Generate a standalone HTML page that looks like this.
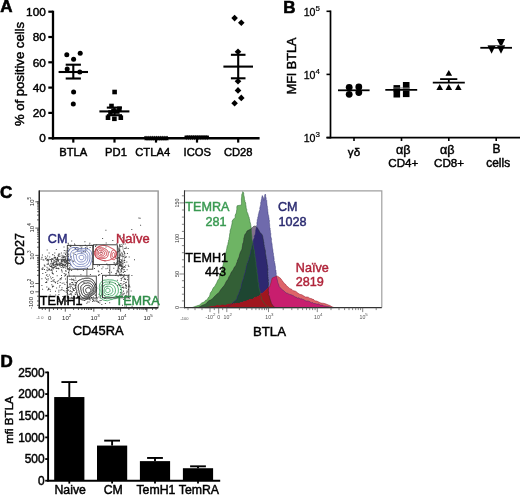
<!DOCTYPE html>
<html><head><meta charset="utf-8"><style>
html,body{margin:0;padding:0;background:#fff;}
svg{display:block;will-change:transform;}
text{font-family:"Liberation Sans",sans-serif;}
</style></head><body>
<svg width="520" height="495" viewBox="0 0 520 495">
<rect width="520" height="495" fill="#fff"/>
<text x="0.2" y="12.4" font-size="17" text-anchor="start" fill="#000" font-weight="bold" stroke="#000" stroke-width="0.6" >A</text>
<line x1="53" y1="10.7" x2="53" y2="139.4" stroke="#000" stroke-width="2.3" />
<line x1="51.9" y1="138.2" x2="259.6" y2="138.2" stroke="#000" stroke-width="2.5" />
<line x1="48.3" y1="138.2" x2="53" y2="138.2" stroke="#000" stroke-width="2.2" />
<text x="45.8" y="142.4" font-size="11.8" text-anchor="end" fill="#000" stroke="#000" stroke-width="0.45" >0</text>
<line x1="48.3" y1="112.9" x2="53" y2="112.9" stroke="#000" stroke-width="2.2" />
<text x="45.8" y="117.1" font-size="11.8" text-anchor="end" fill="#000" stroke="#000" stroke-width="0.45" >20</text>
<line x1="48.3" y1="87.6" x2="53" y2="87.6" stroke="#000" stroke-width="2.2" />
<text x="45.8" y="91.8" font-size="11.8" text-anchor="end" fill="#000" stroke="#000" stroke-width="0.45" >40</text>
<line x1="48.3" y1="62.3" x2="53" y2="62.3" stroke="#000" stroke-width="2.2" />
<text x="45.8" y="66.5" font-size="11.8" text-anchor="end" fill="#000" stroke="#000" stroke-width="0.45" >60</text>
<line x1="48.3" y1="37" x2="53" y2="37" stroke="#000" stroke-width="2.2" />
<text x="45.8" y="41.2" font-size="11.8" text-anchor="end" fill="#000" stroke="#000" stroke-width="0.45" >80</text>
<line x1="48.3" y1="11.7" x2="53" y2="11.7" stroke="#000" stroke-width="2.2" />
<text x="45.8" y="15.9" font-size="11.8" text-anchor="end" fill="#000" stroke="#000" stroke-width="0.45" >100</text>
<line x1="73.3" y1="138.2" x2="73.3" y2="142.6" stroke="#000" stroke-width="2.2" />
<text x="73.3" y="156" font-size="11.2" text-anchor="middle" fill="#000" stroke="#000" stroke-width="0.45" >BTLA</text>
<line x1="114.5" y1="138.2" x2="114.5" y2="142.6" stroke="#000" stroke-width="2.2" />
<text x="116" y="156" font-size="11.2" text-anchor="middle" fill="#000" stroke="#000" stroke-width="0.45" >PD1</text>
<line x1="156" y1="138.2" x2="156" y2="142.6" stroke="#000" stroke-width="2.2" />
<text x="152.7" y="156" font-size="11.2" text-anchor="middle" fill="#000" stroke="#000" stroke-width="0.45" >CTLA4</text>
<line x1="197" y1="138.2" x2="197" y2="142.6" stroke="#000" stroke-width="2.2" />
<text x="197.3" y="156" font-size="11.2" text-anchor="middle" fill="#000" stroke="#000" stroke-width="0.45" >ICOS</text>
<line x1="238.2" y1="138.2" x2="238.2" y2="142.6" stroke="#000" stroke-width="2.2" />
<text x="238.2" y="156" font-size="11.2" text-anchor="middle" fill="#000" stroke="#000" stroke-width="0.45" >CD28</text>
<text transform="translate(24.2,74) rotate(-90)" x="0" y="0" font-size="13.1" stroke="#000" stroke-width="0.45" text-anchor="middle">% of positive cells</text>
<circle cx="66.8" cy="54.8" r="2.5"/>
<circle cx="80.2" cy="53.3" r="2.5"/>
<circle cx="73.6" cy="59.2" r="2.5"/>
<circle cx="67.2" cy="68.9" r="2.5"/>
<circle cx="79.8" cy="72" r="2.5"/>
<circle cx="73.6" cy="92" r="2.5"/>
<circle cx="73.3" cy="104" r="2.5"/>
<line x1="58.6" y1="72" x2="88" y2="72" stroke="#000" stroke-width="2.1" />
<line x1="65.7" y1="64.7" x2="80.9" y2="64.7" stroke="#000" stroke-width="2.1" />
<line x1="65.7" y1="78.5" x2="80.9" y2="78.5" stroke="#000" stroke-width="2.1" />
<line x1="73.3" y1="64.7" x2="73.3" y2="78.5" stroke="#000" stroke-width="2.1" />
<rect x="112.3" y="89.7" width="4.6" height="4.6"/>
<rect x="109.2" y="103.7" width="4.6" height="4.6"/>
<rect x="117.1" y="106.5" width="4.6" height="4.6"/>
<rect x="105.7" y="115.4" width="4.6" height="4.6"/>
<rect x="112.1" y="116.5" width="4.6" height="4.6"/>
<rect x="118.5" y="115.4" width="4.6" height="4.6"/>
<rect x="111.2" y="108.7" width="4.6" height="4.6"/>
<rect x="115" y="109.2" width="4.6" height="4.6"/>
<rect x="108.2" y="110.2" width="4.6" height="4.6"/>
<line x1="99.4" y1="111.4" x2="129.4" y2="111.4" stroke="#000" stroke-width="2.1" />
<line x1="106.8" y1="107.6" x2="122" y2="107.6" stroke="#000" stroke-width="2.1" />
<line x1="106.8" y1="115.2" x2="122" y2="115.2" stroke="#000" stroke-width="2.1" />
<line x1="114.4" y1="107.6" x2="114.4" y2="115.2" stroke="#000" stroke-width="2.1" />
<path d="M144.3 140.2L146 135.6L147.7 140.2Z"/>
<path d="M146.4 140.2L148.1 135.6L149.8 140.2Z"/>
<path d="M148.5 140.2L150.2 135.6L151.9 140.2Z"/>
<path d="M150.6 140.2L152.3 135.6L154 140.2Z"/>
<path d="M152.7 140.2L154.4 135.6L156.1 140.2Z"/>
<path d="M154.8 140.2L156.5 135.6L158.2 140.2Z"/>
<path d="M156.9 140.2L158.6 135.6L160.3 140.2Z"/>
<path d="M159 140.2L160.7 135.6L162.4 140.2Z"/>
<path d="M161.1 140.2L162.8 135.6L164.5 140.2Z"/>
<path d="M163.2 140.2L164.9 135.6L166.6 140.2Z"/>
<path d="M165.3 140.2L167 135.6L168.7 140.2Z"/>
<line x1="144" y1="137.6" x2="168" y2="137.6" stroke="#000" stroke-width="2.4" />
<path d="M184.5 135.6L186.2 140.2L187.9 135.6Z"/>
<path d="M186.6 135.6L188.3 140.2L190 135.6Z"/>
<path d="M188.7 135.6L190.4 140.2L192.1 135.6Z"/>
<path d="M190.8 135.6L192.5 140.2L194.2 135.6Z"/>
<path d="M192.9 135.6L194.6 140.2L196.3 135.6Z"/>
<path d="M195 135.6L196.7 140.2L198.4 135.6Z"/>
<path d="M197.1 135.6L198.8 140.2L200.5 135.6Z"/>
<path d="M199.2 135.6L200.9 140.2L202.6 135.6Z"/>
<path d="M201.3 135.6L203 140.2L204.7 135.6Z"/>
<path d="M203.4 135.6L205.1 140.2L206.8 135.6Z"/>
<path d="M205.5 135.6L207.2 140.2L208.9 135.6Z"/>
<line x1="184.5" y1="137.3" x2="209" y2="137.3" stroke="#000" stroke-width="2.4" />
<path d="M234.6 14.8L237.9 18.1L234.6 21.4L231.3 18.1Z"/>
<path d="M241.3 19.4L244.6 22.7L241.3 26L238 22.7Z"/>
<path d="M238 48.5L241.3 51.8L238 55.1L234.7 51.8Z"/>
<path d="M238 77.9L241.3 81.2L238 84.5L234.7 81.2Z"/>
<path d="M238 87.1L241.3 90.4L238 93.7L234.7 90.4Z"/>
<path d="M241.3 94.6L244.6 97.9L241.3 101.2L238 97.9Z"/>
<path d="M234.6 100L237.9 103.3L234.6 106.6L231.3 103.3Z"/>
<line x1="223.4" y1="66.6" x2="253" y2="66.6" stroke="#000" stroke-width="2.1" />
<line x1="230.9" y1="54.8" x2="245.5" y2="54.8" stroke="#000" stroke-width="2.1" />
<line x1="230.9" y1="78.3" x2="245.5" y2="78.3" stroke="#000" stroke-width="2.1" />
<line x1="238.2" y1="54.8" x2="238.2" y2="78.3" stroke="#000" stroke-width="2.1" />
<text x="283.3" y="12.6" font-size="17" text-anchor="start" fill="#000" font-weight="bold" stroke="#000" stroke-width="0.6" >B</text>
<line x1="330.5" y1="10.5" x2="330.5" y2="138.4" stroke="#000" stroke-width="1.7" />
<line x1="326.5" y1="137.6" x2="520" y2="137.6" stroke="#000" stroke-width="1.8" />
<line x1="326.5" y1="11.3" x2="330.5" y2="11.3" stroke="#000" stroke-width="1.6" />
<text x="315.5" y="15.9" font-size="10.6" text-anchor="end" stroke="#000" stroke-width="0.3">10</text>
<text x="315.5" y="10.7" font-size="8" stroke="#000" stroke-width="0.2">5</text>
<line x1="326.5" y1="74.4" x2="330.5" y2="74.4" stroke="#000" stroke-width="1.6" />
<text x="315.5" y="79" font-size="10.6" text-anchor="end" stroke="#000" stroke-width="0.3">10</text>
<text x="315.5" y="73.8" font-size="8" stroke="#000" stroke-width="0.2">4</text>
<line x1="326.5" y1="137.6" x2="330.5" y2="137.6" stroke="#000" stroke-width="1.6" />
<text x="315.5" y="142.2" font-size="10.6" text-anchor="end" stroke="#000" stroke-width="0.3">10</text>
<text x="315.5" y="137" font-size="8" stroke="#000" stroke-width="0.2">3</text>
<line x1="354" y1="137.6" x2="354" y2="141" stroke="#000" stroke-width="1.6" />
<line x1="401.5" y1="137.6" x2="401.5" y2="141" stroke="#000" stroke-width="1.6" />
<line x1="448.8" y1="137.6" x2="448.8" y2="141" stroke="#000" stroke-width="1.6" />
<line x1="496.2" y1="137.6" x2="496.2" y2="141" stroke="#000" stroke-width="1.6" />
<text x="354" y="156.4" font-size="11.6" text-anchor="middle" fill="#000" stroke="#000" stroke-width="0.45" >γδ</text>
<text x="403.2" y="153.6" font-size="12.6" text-anchor="middle" fill="#000" stroke="#000" stroke-width="0.45" >αβ</text>
<text x="403.3" y="167.3" font-size="11.6" text-anchor="middle" fill="#000" stroke="#000" stroke-width="0.45" >CD4+</text>
<text x="447.2" y="153.6" font-size="12.6" text-anchor="middle" fill="#000" stroke="#000" stroke-width="0.45" >αβ</text>
<text x="449" y="167.3" font-size="11.6" text-anchor="middle" fill="#000" stroke="#000" stroke-width="0.45" >CD8+</text>
<text x="496.6" y="152.7" font-size="12.0" text-anchor="middle" fill="#000" stroke="#000" stroke-width="0.45" >B</text>
<text x="498.2" y="167" font-size="11.9" text-anchor="middle" fill="#000" stroke="#000" stroke-width="0.45" >cells</text>
<text transform="translate(296.4,66) rotate(-90)" x="0" y="0" font-size="12.6" stroke="#000" stroke-width="0.45" text-anchor="middle">MFI BTLA</text>
<circle cx="349.2" cy="87.3" r="3.4"/>
<circle cx="349.2" cy="94.3" r="3.4"/>
<circle cx="358.8" cy="86.9" r="3.4"/>
<circle cx="358.8" cy="92.6" r="3.4"/>
<line x1="338" y1="90.3" x2="369.6" y2="90.3" stroke="#000" stroke-width="1.8" />
<rect x="393.5" y="85.1" width="6.6" height="6.6"/>
<rect x="393.5" y="90.9" width="6.6" height="6.6"/>
<rect x="402.9" y="82" width="6.6" height="6.6"/>
<rect x="402.9" y="90.5" width="6.6" height="6.6"/>
<line x1="385.3" y1="89.9" x2="417.2" y2="89.9" stroke="#000" stroke-width="1.8" />
<line x1="393" y1="88" x2="410" y2="88" stroke="#777" stroke-width="1.0" />
<path d="M445.5 75.8L448.8 70L452.1 75.8Z"/>
<path d="M436.4 89.9L439.7 84.1L443 89.9Z"/>
<path d="M445.5 89.9L448.8 84.1L452.1 89.9Z"/>
<path d="M455 89.9L458.3 84.1L461.6 89.9Z"/>
<line x1="440.1" y1="79.1" x2="457.3" y2="79.1" stroke="#000" stroke-width="1.8" />
<line x1="432.8" y1="82.6" x2="464.8" y2="82.6" stroke="#000" stroke-width="1.8" />
<line x1="448.8" y1="79.1" x2="448.8" y2="82.6" stroke="#000" stroke-width="1.8" />
<path d="M496.9 39L501 47.4L505.1 39Z"/>
<path d="M487.5 45.4L491.6 53.8L495.7 45.4Z"/>
<path d="M496.9 45.4L501 53.8L505.1 45.4Z"/>
<line x1="480.3" y1="47.8" x2="512" y2="47.8" stroke="#000" stroke-width="1.8" />
<line x1="488" y1="45.6" x2="505" y2="45.6" stroke="#555" stroke-width="1.0" />
<text x="0.6" y="366.8" font-size="17" text-anchor="start" fill="#000" font-weight="bold" stroke="#000" stroke-width="0.6" >D</text>
<line x1="48.1" y1="371.6" x2="48.1" y2="481.5" stroke="#000" stroke-width="1.9" />
<line x1="47.3" y1="480.7" x2="220.2" y2="480.7" stroke="#000" stroke-width="1.9" />
<line x1="45.2" y1="480.7" x2="48.1" y2="480.7" stroke="#000" stroke-width="1.8" />
<text x="44.6" y="484.9" font-size="11.9" text-anchor="end" fill="#000" stroke="#000" stroke-width="0.45" >0</text>
<line x1="45.2" y1="459.04" x2="48.1" y2="459.04" stroke="#000" stroke-width="1.8" />
<text x="44.6" y="463.24" font-size="11.9" text-anchor="end" fill="#000" stroke="#000" stroke-width="0.45" >500</text>
<line x1="45.2" y1="437.38" x2="48.1" y2="437.38" stroke="#000" stroke-width="1.8" />
<text x="44.6" y="441.58" font-size="11.9" text-anchor="end" fill="#000" stroke="#000" stroke-width="0.45" >1000</text>
<line x1="45.2" y1="415.72" x2="48.1" y2="415.72" stroke="#000" stroke-width="1.8" />
<text x="44.6" y="419.92" font-size="11.9" text-anchor="end" fill="#000" stroke="#000" stroke-width="0.45" >1500</text>
<line x1="45.2" y1="394.06" x2="48.1" y2="394.06" stroke="#000" stroke-width="1.8" />
<text x="44.6" y="398.26" font-size="11.9" text-anchor="end" fill="#000" stroke="#000" stroke-width="0.45" >2000</text>
<line x1="45.2" y1="372.4" x2="48.1" y2="372.4" stroke="#000" stroke-width="1.8" />
<text x="44.6" y="376.6" font-size="11.9" text-anchor="end" fill="#000" stroke="#000" stroke-width="0.45" >2500</text>
<text transform="translate(12.6,420) rotate(-90)" x="0" y="0" font-size="11.6" stroke="#000" stroke-width="0.45" text-anchor="middle">mfi BTLA</text>
<rect x="54.2" y="397.05" width="30.2" height="83.65"/>
<line x1="69.3" y1="397.05" x2="69.3" y2="382.06" stroke="#000" stroke-width="1.9" />
<line x1="61.4" y1="382.06" x2="77.2" y2="382.06" stroke="#000" stroke-width="1.9" />
<line x1="69.3" y1="480.7" x2="69.3" y2="483.6" stroke="#000" stroke-width="1.8" />
<text x="70.2" y="494.2" font-size="12.3" text-anchor="middle" fill="#000" stroke="#000" stroke-width="0.45" >Naive</text>
<rect x="97" y="445.57" width="30.2" height="35.13"/>
<line x1="112.1" y1="445.57" x2="112.1" y2="440.63" stroke="#000" stroke-width="1.9" />
<line x1="104.2" y1="440.63" x2="120" y2="440.63" stroke="#000" stroke-width="1.9" />
<line x1="112.1" y1="480.7" x2="112.1" y2="483.6" stroke="#000" stroke-width="1.8" />
<text x="113.3" y="494.2" font-size="12.3" text-anchor="middle" fill="#000" stroke="#000" stroke-width="0.45" >CM</text>
<rect x="139.9" y="461.12" width="30.2" height="19.58"/>
<line x1="155" y1="461.12" x2="155" y2="457.96" stroke="#000" stroke-width="1.9" />
<line x1="147.1" y1="457.96" x2="162.9" y2="457.96" stroke="#000" stroke-width="1.9" />
<line x1="155" y1="480.7" x2="155" y2="483.6" stroke="#000" stroke-width="1.8" />
<text x="155.9" y="494.2" font-size="12.3" text-anchor="middle" fill="#000" stroke="#000" stroke-width="0.45" >TemH1</text>
<rect x="182.9" y="468.22" width="30.2" height="12.48"/>
<line x1="198" y1="468.22" x2="198" y2="466.32" stroke="#000" stroke-width="1.9" />
<line x1="190.1" y1="466.32" x2="205.9" y2="466.32" stroke="#000" stroke-width="1.9" />
<line x1="198" y1="480.7" x2="198" y2="483.6" stroke="#000" stroke-width="1.8" />
<text x="198.9" y="494.2" font-size="12.3" text-anchor="middle" fill="#000" stroke="#000" stroke-width="0.45" >TemRA</text>
<text x="0" y="198.2" font-size="17" text-anchor="start" fill="#000" font-weight="bold" stroke="#000" stroke-width="0.6" >C</text>
<path d="M39.3 191.0H158.2V307.8" fill="none" stroke="#a0a0a0" stroke-width="1.2"/>
<line x1="39.3" y1="190.4" x2="39.3" y2="308.4" stroke="#222" stroke-width="1.2" />
<line x1="38.7" y1="307.8" x2="158.2" y2="307.8" stroke="#222" stroke-width="1.2" />
<text transform="translate(23.6,249) rotate(-90)" x="0" y="0" font-size="12.6" stroke="#000" stroke-width="0.45" text-anchor="middle">CD27</text>
<text x="98.2" y="334.5" font-size="12.9" text-anchor="middle" fill="#000" stroke="#000" stroke-width="0.45" >CD45RA</text>
<defs>
<clipPath id="cpG"><path d="M192.0 307.6L193.2 307.2L194.4 306.8L195.6 306.3L196.8 305.9L198.0 305.5L199.2 305.3L200.6 304.0L201.8 302.9L203.0 302.5L204.5 301.8L205.5 300.3L207.0 300.0L207.9 298.2L208.2 297.6L209.4 296.6L209.9 294.9L210.3 293.0L211.0 292.1L212.0 290.8L212.7 289.0L213.7 287.3L214.8 286.4L215.5 285.0L216.3 283.6L217.0 282.2L217.5 280.8L218.3 279.5L219.0 278.8L219.3 277.4L219.5 275.5L219.8 274.2L220.5 273.6L221.0 272.0L221.3 271.1L222.0 269.9L222.0 267.4L222.5 267.2L222.9 265.9L223.3 264.0L223.7 262.2L223.8 261.7L224.1 259.5L224.7 259.2L224.7 256.9L225.2 256.0L225.2 254.3L225.5 253.8L226.0 252.3L226.4 250.6L226.6 249.2L226.8 248.4L227.1 246.6L227.3 245.4L227.9 244.9L228.0 243.0L228.5 241.5L228.5 240.2L228.9 239.7L229.1 238.0L229.6 236.1L229.5 234.9L229.7 234.1L230.1 232.4L230.1 230.8L230.7 229.1L231.1 227.9L231.3 226.6L231.6 225.4L231.8 224.6L232.2 222.8L232.1 221.3L233.1 219.4L234.6 218.3L235.2 217.4L235.2 215.1L235.8 214.0L236.3 213.0L236.6 211.1L236.6 210.2L236.9 209.2L236.8 207.1L237.2 205.7L239.0 205.4L241.2 205.2L241.5 203.3L241.4 202.3L241.5 201.0L241.4 200.0L241.4 198.8L241.7 196.9L241.7 196.0L241.9 194.0L242.6 193.1L242.7 191.5L243.7 193.0L243.7 194.4L243.9 196.1L244.1 196.2L244.4 198.1L244.4 199.3L244.8 200.2L245.0 201.8L245.7 202.8L245.7 204.2L246.0 206.2L246.2 207.2L246.0 208.0L246.7 209.2L246.7 211.2L247.4 212.7L247.7 213.2L248.2 215.0L248.5 216.3L249.1 217.3L249.2 218.3L249.7 220.3L249.8 221.3L250.3 223.0L250.7 224.4L250.8 225.4L251.0 226.5L251.3 228.4L251.3 229.1L251.3 230.4L251.4 232.1L251.4 233.1L251.6 234.3L251.7 235.0L251.9 237.3L251.8 238.0L252.0 239.7L252.3 241.1L252.7 242.1L252.9 243.1L253.0 245.0L253.4 245.8L253.4 247.8L253.9 249.4L254.5 250.7L254.5 252.0L254.4 253.0L254.9 254.4L254.8 255.5L255.2 257.7L255.5 258.4L255.6 259.6L255.6 260.7L256.0 262.8L255.9 264.2L256.1 265.0L256.1 266.3L256.4 267.1L256.8 269.2L257.0 270.3L256.7 271.0L256.9 272.4L257.2 273.4L257.4 275.2L257.7 276.0L257.7 278.1L257.6 278.2L258.0 280.0L257.9 281.7L258.4 282.8L258.8 283.5L258.6 284.4L258.7 286.2L259.0 287.9L259.1 288.3L259.6 290.0L259.9 291.4L260.3 292.7L260.8 294.1L260.6 295.2L260.9 296.2L261.4 296.9L261.5 299.0L262.0 300.0L262.9 301.1L264.0 303.0L265.2 304.3L266.0 305.5L267.3 306.2L268.7 306.9L270.0 307.6Z"/></clipPath>
<clipPath id="cpH"><path d="M198.0 307.6L199.2 307.0L200.5 306.3L201.9 305.5L203.0 305.0L204.1 304.7L205.8 303.9L207.0 302.5L208.8 300.8L210.6 300.0L212.5 298.7L214.0 297.0L215.8 295.2L217.6 293.6L218.7 292.9L219.5 291.7L220.5 290.0L221.7 288.5L223.3 286.6L224.4 285.3L225.2 283.7L226.0 282.0L227.0 280.3L227.8 279.9L228.4 278.1L229.0 276.7L230.0 275.2L230.4 274.5L231.2 272.3L232.0 271.5L233.2 269.8L234.0 268.0L234.7 266.7L236.0 265.4L236.2 264.5L236.6 263.3L237.4 261.5L237.5 260.0L238.2 259.3L238.5 258.0L239.0 257.2L239.3 256.1L239.5 254.9L240.1 252.9L240.5 252.0L241.7 249.8L242.1 248.2L242.2 247.2L242.5 246.1L242.7 244.1L243.0 243.0L243.5 242.2L243.7 240.2L243.8 239.9L243.8 238.2L244.3 237.0L244.5 235.7L245.0 234.3L246.2 233.1L247.0 231.0L248.7 230.1L250.0 229.5L251.5 228.5L253.0 226.8L254.4 226.0L256.0 226.3L257.5 228.0L258.2 229.3L259.0 230.5L259.8 232.2L261.1 233.5L262.3 235.0L262.8 236.8L262.8 237.2L263.0 238.3L263.5 240.4L263.4 241.2L263.9 242.1L263.8 244.3L264.3 245.0L264.2 246.6L264.5 247.1L264.8 249.0L265.1 249.8L265.4 250.8L265.4 252.0L265.4 253.5L265.8 255.0L266.0 256.3L266.2 257.4L266.2 258.8L266.7 259.6L266.9 261.4L267.1 262.9L267.1 264.2L267.5 265.0L267.7 266.5L267.5 268.0L267.9 268.5L268.0 269.7L267.6 271.7L268.0 272.2L267.7 273.5L268.0 275.4L267.8 276.6L268.2 277.4L268.0 278.2L268.5 280.2L268.1 281.8L268.5 282.5L268.5 283.8L268.5 285.0L268.2 285.9L268.2 287.0L268.5 288.8L268.3 290.1L268.3 290.9L268.8 292.9L268.3 294.3L268.5 295.0L269.3 295.9L269.7 297.8L270.0 299.0L270.5 300.6L271.0 302.0L271.4 303.5L272.5 304.9L273.0 306.0L275.0 307.6Z"/></clipPath>
<clipPath id="cpC"><path d="M226.0 307.6L227.2 306.9L228.4 306.2L229.6 305.1L230.7 305.0L232.0 304.0L233.1 302.3L234.4 301.3L236.0 300.0L236.7 299.2L237.2 297.7L237.4 296.4L238.0 295.1L238.7 294.3L239.2 292.2L239.7 291.5L240.0 290.0L240.3 289.1L241.0 288.0L241.3 286.5L241.4 285.3L241.6 284.0L242.2 282.3L242.5 280.7L243.0 280.0L243.4 278.9L243.9 277.2L243.9 276.4L244.4 275.2L244.6 273.8L245.1 273.1L245.5 271.5L245.4 270.6L246.1 268.9L246.3 267.2L246.5 265.7L247.0 265.0L247.1 263.6L248.0 262.2L248.1 261.3L248.5 260.6L249.0 259.3L249.0 257.9L249.8 256.4L250.0 255.0L250.6 253.2L250.6 252.1L250.9 250.9L251.0 250.1L251.5 249.3L251.9 247.5L252.1 246.1L252.5 245.0L252.8 243.9L253.2 242.2L253.1 241.0L253.4 239.7L254.1 238.3L254.5 237.4L254.2 236.5L254.8 235.0L255.3 234.2L255.6 231.7L255.6 230.7L255.8 230.0L256.2 228.0L256.7 226.7L256.6 225.6L257.0 224.6L256.8 222.9L257.2 221.6L257.2 219.8L257.7 218.8L257.7 217.5L258.3 216.0L258.3 214.7L258.7 213.5L259.0 212.0L259.3 211.0L259.9 209.8L259.7 208.2L260.2 206.5L260.7 204.7L260.7 204.2L260.7 202.4L261.1 201.5L261.3 200.0L261.7 198.6L261.8 197.3L262.3 195.5L263.3 197.5L263.8 198.6L263.8 200.4L264.4 199.2L264.6 197.0L264.7 194.9L265.4 194.0L265.6 195.1L265.7 196.8L266.2 198.0L266.1 199.4L266.7 200.3L266.8 202.2L266.9 203.5L267.0 204.6L267.1 205.6L267.6 207.4L267.3 207.8L267.8 209.9L267.7 211.1L268.0 212.0L268.0 213.2L268.3 214.9L268.8 215.9L268.7 216.8L269.1 218.5L269.0 219.4L269.5 220.3L269.4 222.0L269.3 222.8L269.7 224.7L269.7 226.1L269.7 227.5L270.2 228.2L270.1 229.3L270.5 231.4L270.3 232.1L270.8 233.5L270.8 235.0L270.7 236.1L271.2 237.8L271.6 239.3L271.4 240.6L271.5 241.8L271.7 242.4L272.2 244.5L272.1 244.9L272.3 246.5L272.4 247.6L272.6 248.8L272.9 249.8L273.0 251.8L273.2 253.1L273.5 253.5L273.4 255.6L273.7 255.8L274.0 257.7L274.2 259.4L274.0 260.4L274.6 261.4L274.4 262.0L275.1 264.1L275.0 265.0L275.3 265.9L275.5 267.4L275.4 269.4L276.0 270.3L276.0 272.0L276.3 273.4L276.2 274.5L276.5 276.5L276.5 277.3L276.9 278.5L277.3 280.0L277.5 281.0L277.9 282.9L278.5 284.1L279.0 285.5L279.2 286.5L280.9 288.3L282.2 289.8L283.7 290.7L285.0 292.0L286.2 293.0L287.3 293.2L289.0 294.2L289.8 294.4L291.2 294.8L292.8 295.5L293.6 295.8L295.0 297.0L296.3 297.0L297.3 298.2L298.7 297.8L300.2 298.9L301.0 298.6L302.3 299.2L303.9 299.7L305.0 300.5L306.1 301.0L307.4 300.9L308.9 301.2L310.0 301.8L311.2 302.8L312.7 302.5L313.7 303.6L315.0 303.5L316.5 303.9L317.3 304.1L319.0 303.9L319.9 305.1L321.3 305.1L322.8 305.1L323.6 305.9L325.0 306.0L326.3 306.3L327.7 306.5L329.0 306.8L330.3 307.1L331.7 307.3L333.0 307.6Z"/></clipPath>
<clipPath id="cpN"><path d="M205.0 307.6L206.4 307.4L207.8 307.2L209.2 306.9L210.6 306.7L212.0 306.5L213.3 306.4L214.5 306.2L215.8 306.1L217.0 305.2L218.5 305.6L219.6 305.9L220.8 305.5L221.9 304.9L223.3 305.0L224.8 305.6L226.4 305.1L227.4 304.5L228.9 304.2L230.0 304.5L231.4 303.6L232.6 304.6L233.4 303.3L234.5 304.0L236.0 303.5L237.3 303.1L238.7 303.5L239.9 303.0L241.3 302.6L242.4 302.4L244.0 301.5L245.0 301.6L246.5 300.9L248.0 300.0L248.9 299.9L250.1 299.2L251.5 299.5L253.0 298.9L254.2 298.1L255.3 297.1L257.0 297.0L258.0 296.5L259.6 295.8L260.8 293.6L262.2 293.4L263.8 292.0L265.4 290.6L267.0 289.0L268.8 287.1L270.0 286.5L270.2 285.5L270.6 283.9L271.2 282.2L271.5 281.0L271.8 279.2L272.3 278.0L273.8 277.3L275.0 277.0L276.0 276.3L277.5 276.2L279.5 277.5L281.0 278.8L281.9 280.5L283.0 281.5L284.2 283.4L285.3 284.0L286.3 285.6L287.5 286.5L289.6 288.4L292.0 289.5L293.1 290.7L294.8 291.0L295.9 291.4L297.5 292.8L298.9 293.8L300.0 294.4L301.7 294.7L303.5 295.8L305.3 296.9L306.9 297.0L308.3 297.2L310.0 298.5L311.0 298.4L312.2 299.1L313.8 299.6L315.1 300.9L316.5 301.0L317.9 301.6L319.0 302.2L321.0 303.1L322.5 303.2L324.1 303.4L326.0 304.0L326.9 304.4L328.5 305.0L329.9 305.5L331.1 306.3L332.6 307.0L334.0 307.6Z"/></clipPath>
</defs>
<path d="M192.0 307.6L193.2 307.2L194.4 306.8L195.6 306.3L196.8 305.9L198.0 305.5L199.2 305.3L200.6 304.0L201.8 302.9L203.0 302.5L204.5 301.8L205.5 300.3L207.0 300.0L207.9 298.2L208.2 297.6L209.4 296.6L209.9 294.9L210.3 293.0L211.0 292.1L212.0 290.8L212.7 289.0L213.7 287.3L214.8 286.4L215.5 285.0L216.3 283.6L217.0 282.2L217.5 280.8L218.3 279.5L219.0 278.8L219.3 277.4L219.5 275.5L219.8 274.2L220.5 273.6L221.0 272.0L221.3 271.1L222.0 269.9L222.0 267.4L222.5 267.2L222.9 265.9L223.3 264.0L223.7 262.2L223.8 261.7L224.1 259.5L224.7 259.2L224.7 256.9L225.2 256.0L225.2 254.3L225.5 253.8L226.0 252.3L226.4 250.6L226.6 249.2L226.8 248.4L227.1 246.6L227.3 245.4L227.9 244.9L228.0 243.0L228.5 241.5L228.5 240.2L228.9 239.7L229.1 238.0L229.6 236.1L229.5 234.9L229.7 234.1L230.1 232.4L230.1 230.8L230.7 229.1L231.1 227.9L231.3 226.6L231.6 225.4L231.8 224.6L232.2 222.8L232.1 221.3L233.1 219.4L234.6 218.3L235.2 217.4L235.2 215.1L235.8 214.0L236.3 213.0L236.6 211.1L236.6 210.2L236.9 209.2L236.8 207.1L237.2 205.7L239.0 205.4L241.2 205.2L241.5 203.3L241.4 202.3L241.5 201.0L241.4 200.0L241.4 198.8L241.7 196.9L241.7 196.0L241.9 194.0L242.6 193.1L242.7 191.5L243.7 193.0L243.7 194.4L243.9 196.1L244.1 196.2L244.4 198.1L244.4 199.3L244.8 200.2L245.0 201.8L245.7 202.8L245.7 204.2L246.0 206.2L246.2 207.2L246.0 208.0L246.7 209.2L246.7 211.2L247.4 212.7L247.7 213.2L248.2 215.0L248.5 216.3L249.1 217.3L249.2 218.3L249.7 220.3L249.8 221.3L250.3 223.0L250.7 224.4L250.8 225.4L251.0 226.5L251.3 228.4L251.3 229.1L251.3 230.4L251.4 232.1L251.4 233.1L251.6 234.3L251.7 235.0L251.9 237.3L251.8 238.0L252.0 239.7L252.3 241.1L252.7 242.1L252.9 243.1L253.0 245.0L253.4 245.8L253.4 247.8L253.9 249.4L254.5 250.7L254.5 252.0L254.4 253.0L254.9 254.4L254.8 255.5L255.2 257.7L255.5 258.4L255.6 259.6L255.6 260.7L256.0 262.8L255.9 264.2L256.1 265.0L256.1 266.3L256.4 267.1L256.8 269.2L257.0 270.3L256.7 271.0L256.9 272.4L257.2 273.4L257.4 275.2L257.7 276.0L257.7 278.1L257.6 278.2L258.0 280.0L257.9 281.7L258.4 282.8L258.8 283.5L258.6 284.4L258.7 286.2L259.0 287.9L259.1 288.3L259.6 290.0L259.9 291.4L260.3 292.7L260.8 294.1L260.6 295.2L260.9 296.2L261.4 296.9L261.5 299.0L262.0 300.0L262.9 301.1L264.0 303.0L265.2 304.3L266.0 305.5L267.3 306.2L268.7 306.9L270.0 307.6Z" fill="#6eb464"/>
<path d="M198.0 307.6L199.2 307.0L200.5 306.3L201.9 305.5L203.0 305.0L204.1 304.7L205.8 303.9L207.0 302.5L208.8 300.8L210.6 300.0L212.5 298.7L214.0 297.0L215.8 295.2L217.6 293.6L218.7 292.9L219.5 291.7L220.5 290.0L221.7 288.5L223.3 286.6L224.4 285.3L225.2 283.7L226.0 282.0L227.0 280.3L227.8 279.9L228.4 278.1L229.0 276.7L230.0 275.2L230.4 274.5L231.2 272.3L232.0 271.5L233.2 269.8L234.0 268.0L234.7 266.7L236.0 265.4L236.2 264.5L236.6 263.3L237.4 261.5L237.5 260.0L238.2 259.3L238.5 258.0L239.0 257.2L239.3 256.1L239.5 254.9L240.1 252.9L240.5 252.0L241.7 249.8L242.1 248.2L242.2 247.2L242.5 246.1L242.7 244.1L243.0 243.0L243.5 242.2L243.7 240.2L243.8 239.9L243.8 238.2L244.3 237.0L244.5 235.7L245.0 234.3L246.2 233.1L247.0 231.0L248.7 230.1L250.0 229.5L251.5 228.5L253.0 226.8L254.4 226.0L256.0 226.3L257.5 228.0L258.2 229.3L259.0 230.5L259.8 232.2L261.1 233.5L262.3 235.0L262.8 236.8L262.8 237.2L263.0 238.3L263.5 240.4L263.4 241.2L263.9 242.1L263.8 244.3L264.3 245.0L264.2 246.6L264.5 247.1L264.8 249.0L265.1 249.8L265.4 250.8L265.4 252.0L265.4 253.5L265.8 255.0L266.0 256.3L266.2 257.4L266.2 258.8L266.7 259.6L266.9 261.4L267.1 262.9L267.1 264.2L267.5 265.0L267.7 266.5L267.5 268.0L267.9 268.5L268.0 269.7L267.6 271.7L268.0 272.2L267.7 273.5L268.0 275.4L267.8 276.6L268.2 277.4L268.0 278.2L268.5 280.2L268.1 281.8L268.5 282.5L268.5 283.8L268.5 285.0L268.2 285.9L268.2 287.0L268.5 288.8L268.3 290.1L268.3 290.9L268.8 292.9L268.3 294.3L268.5 295.0L269.3 295.9L269.7 297.8L270.0 299.0L270.5 300.6L271.0 302.0L271.4 303.5L272.5 304.9L273.0 306.0L275.0 307.6Z" fill="#82738c"/>
<g clip-path="url(#cpG)"><path d="M198.0 307.6L199.2 307.0L200.5 306.3L201.9 305.5L203.0 305.0L204.1 304.7L205.8 303.9L207.0 302.5L208.8 300.8L210.6 300.0L212.5 298.7L214.0 297.0L215.8 295.2L217.6 293.6L218.7 292.9L219.5 291.7L220.5 290.0L221.7 288.5L223.3 286.6L224.4 285.3L225.2 283.7L226.0 282.0L227.0 280.3L227.8 279.9L228.4 278.1L229.0 276.7L230.0 275.2L230.4 274.5L231.2 272.3L232.0 271.5L233.2 269.8L234.0 268.0L234.7 266.7L236.0 265.4L236.2 264.5L236.6 263.3L237.4 261.5L237.5 260.0L238.2 259.3L238.5 258.0L239.0 257.2L239.3 256.1L239.5 254.9L240.1 252.9L240.5 252.0L241.7 249.8L242.1 248.2L242.2 247.2L242.5 246.1L242.7 244.1L243.0 243.0L243.5 242.2L243.7 240.2L243.8 239.9L243.8 238.2L244.3 237.0L244.5 235.7L245.0 234.3L246.2 233.1L247.0 231.0L248.7 230.1L250.0 229.5L251.5 228.5L253.0 226.8L254.4 226.0L256.0 226.3L257.5 228.0L258.2 229.3L259.0 230.5L259.8 232.2L261.1 233.5L262.3 235.0L262.8 236.8L262.8 237.2L263.0 238.3L263.5 240.4L263.4 241.2L263.9 242.1L263.8 244.3L264.3 245.0L264.2 246.6L264.5 247.1L264.8 249.0L265.1 249.8L265.4 250.8L265.4 252.0L265.4 253.5L265.8 255.0L266.0 256.3L266.2 257.4L266.2 258.8L266.7 259.6L266.9 261.4L267.1 262.9L267.1 264.2L267.5 265.0L267.7 266.5L267.5 268.0L267.9 268.5L268.0 269.7L267.6 271.7L268.0 272.2L267.7 273.5L268.0 275.4L267.8 276.6L268.2 277.4L268.0 278.2L268.5 280.2L268.1 281.8L268.5 282.5L268.5 283.8L268.5 285.0L268.2 285.9L268.2 287.0L268.5 288.8L268.3 290.1L268.3 290.9L268.8 292.9L268.3 294.3L268.5 295.0L269.3 295.9L269.7 297.8L270.0 299.0L270.5 300.6L271.0 302.0L271.4 303.5L272.5 304.9L273.0 306.0L275.0 307.6Z" fill="#335f36"/></g>
<path d="M226.0 307.6L227.2 306.9L228.4 306.2L229.6 305.1L230.7 305.0L232.0 304.0L233.1 302.3L234.4 301.3L236.0 300.0L236.7 299.2L237.2 297.7L237.4 296.4L238.0 295.1L238.7 294.3L239.2 292.2L239.7 291.5L240.0 290.0L240.3 289.1L241.0 288.0L241.3 286.5L241.4 285.3L241.6 284.0L242.2 282.3L242.5 280.7L243.0 280.0L243.4 278.9L243.9 277.2L243.9 276.4L244.4 275.2L244.6 273.8L245.1 273.1L245.5 271.5L245.4 270.6L246.1 268.9L246.3 267.2L246.5 265.7L247.0 265.0L247.1 263.6L248.0 262.2L248.1 261.3L248.5 260.6L249.0 259.3L249.0 257.9L249.8 256.4L250.0 255.0L250.6 253.2L250.6 252.1L250.9 250.9L251.0 250.1L251.5 249.3L251.9 247.5L252.1 246.1L252.5 245.0L252.8 243.9L253.2 242.2L253.1 241.0L253.4 239.7L254.1 238.3L254.5 237.4L254.2 236.5L254.8 235.0L255.3 234.2L255.6 231.7L255.6 230.7L255.8 230.0L256.2 228.0L256.7 226.7L256.6 225.6L257.0 224.6L256.8 222.9L257.2 221.6L257.2 219.8L257.7 218.8L257.7 217.5L258.3 216.0L258.3 214.7L258.7 213.5L259.0 212.0L259.3 211.0L259.9 209.8L259.7 208.2L260.2 206.5L260.7 204.7L260.7 204.2L260.7 202.4L261.1 201.5L261.3 200.0L261.7 198.6L261.8 197.3L262.3 195.5L263.3 197.5L263.8 198.6L263.8 200.4L264.4 199.2L264.6 197.0L264.7 194.9L265.4 194.0L265.6 195.1L265.7 196.8L266.2 198.0L266.1 199.4L266.7 200.3L266.8 202.2L266.9 203.5L267.0 204.6L267.1 205.6L267.6 207.4L267.3 207.8L267.8 209.9L267.7 211.1L268.0 212.0L268.0 213.2L268.3 214.9L268.8 215.9L268.7 216.8L269.1 218.5L269.0 219.4L269.5 220.3L269.4 222.0L269.3 222.8L269.7 224.7L269.7 226.1L269.7 227.5L270.2 228.2L270.1 229.3L270.5 231.4L270.3 232.1L270.8 233.5L270.8 235.0L270.7 236.1L271.2 237.8L271.6 239.3L271.4 240.6L271.5 241.8L271.7 242.4L272.2 244.5L272.1 244.9L272.3 246.5L272.4 247.6L272.6 248.8L272.9 249.8L273.0 251.8L273.2 253.1L273.5 253.5L273.4 255.6L273.7 255.8L274.0 257.7L274.2 259.4L274.0 260.4L274.6 261.4L274.4 262.0L275.1 264.1L275.0 265.0L275.3 265.9L275.5 267.4L275.4 269.4L276.0 270.3L276.0 272.0L276.3 273.4L276.2 274.5L276.5 276.5L276.5 277.3L276.9 278.5L277.3 280.0L277.5 281.0L277.9 282.9L278.5 284.1L279.0 285.5L279.2 286.5L280.9 288.3L282.2 289.8L283.7 290.7L285.0 292.0L286.2 293.0L287.3 293.2L289.0 294.2L289.8 294.4L291.2 294.8L292.8 295.5L293.6 295.8L295.0 297.0L296.3 297.0L297.3 298.2L298.7 297.8L300.2 298.9L301.0 298.6L302.3 299.2L303.9 299.7L305.0 300.5L306.1 301.0L307.4 300.9L308.9 301.2L310.0 301.8L311.2 302.8L312.7 302.5L313.7 303.6L315.0 303.5L316.5 303.9L317.3 304.1L319.0 303.9L319.9 305.1L321.3 305.1L322.8 305.1L323.6 305.9L325.0 306.0L326.3 306.3L327.7 306.5L329.0 306.8L330.3 307.1L331.7 307.3L333.0 307.6Z" fill="#6f6aac"/>
<g clip-path="url(#cpH)"><path d="M226.0 307.6L227.2 306.9L228.4 306.2L229.6 305.1L230.7 305.0L232.0 304.0L233.1 302.3L234.4 301.3L236.0 300.0L236.7 299.2L237.2 297.7L237.4 296.4L238.0 295.1L238.7 294.3L239.2 292.2L239.7 291.5L240.0 290.0L240.3 289.1L241.0 288.0L241.3 286.5L241.4 285.3L241.6 284.0L242.2 282.3L242.5 280.7L243.0 280.0L243.4 278.9L243.9 277.2L243.9 276.4L244.4 275.2L244.6 273.8L245.1 273.1L245.5 271.5L245.4 270.6L246.1 268.9L246.3 267.2L246.5 265.7L247.0 265.0L247.1 263.6L248.0 262.2L248.1 261.3L248.5 260.6L249.0 259.3L249.0 257.9L249.8 256.4L250.0 255.0L250.6 253.2L250.6 252.1L250.9 250.9L251.0 250.1L251.5 249.3L251.9 247.5L252.1 246.1L252.5 245.0L252.8 243.9L253.2 242.2L253.1 241.0L253.4 239.7L254.1 238.3L254.5 237.4L254.2 236.5L254.8 235.0L255.3 234.2L255.6 231.7L255.6 230.7L255.8 230.0L256.2 228.0L256.7 226.7L256.6 225.6L257.0 224.6L256.8 222.9L257.2 221.6L257.2 219.8L257.7 218.8L257.7 217.5L258.3 216.0L258.3 214.7L258.7 213.5L259.0 212.0L259.3 211.0L259.9 209.8L259.7 208.2L260.2 206.5L260.7 204.7L260.7 204.2L260.7 202.4L261.1 201.5L261.3 200.0L261.7 198.6L261.8 197.3L262.3 195.5L263.3 197.5L263.8 198.6L263.8 200.4L264.4 199.2L264.6 197.0L264.7 194.9L265.4 194.0L265.6 195.1L265.7 196.8L266.2 198.0L266.1 199.4L266.7 200.3L266.8 202.2L266.9 203.5L267.0 204.6L267.1 205.6L267.6 207.4L267.3 207.8L267.8 209.9L267.7 211.1L268.0 212.0L268.0 213.2L268.3 214.9L268.8 215.9L268.7 216.8L269.1 218.5L269.0 219.4L269.5 220.3L269.4 222.0L269.3 222.8L269.7 224.7L269.7 226.1L269.7 227.5L270.2 228.2L270.1 229.3L270.5 231.4L270.3 232.1L270.8 233.5L270.8 235.0L270.7 236.1L271.2 237.8L271.6 239.3L271.4 240.6L271.5 241.8L271.7 242.4L272.2 244.5L272.1 244.9L272.3 246.5L272.4 247.6L272.6 248.8L272.9 249.8L273.0 251.8L273.2 253.1L273.5 253.5L273.4 255.6L273.7 255.8L274.0 257.7L274.2 259.4L274.0 260.4L274.6 261.4L274.4 262.0L275.1 264.1L275.0 265.0L275.3 265.9L275.5 267.4L275.4 269.4L276.0 270.3L276.0 272.0L276.3 273.4L276.2 274.5L276.5 276.5L276.5 277.3L276.9 278.5L277.3 280.0L277.5 281.0L277.9 282.9L278.5 284.1L279.0 285.5L279.2 286.5L280.9 288.3L282.2 289.8L283.7 290.7L285.0 292.0L286.2 293.0L287.3 293.2L289.0 294.2L289.8 294.4L291.2 294.8L292.8 295.5L293.6 295.8L295.0 297.0L296.3 297.0L297.3 298.2L298.7 297.8L300.2 298.9L301.0 298.6L302.3 299.2L303.9 299.7L305.0 300.5L306.1 301.0L307.4 300.9L308.9 301.2L310.0 301.8L311.2 302.8L312.7 302.5L313.7 303.6L315.0 303.5L316.5 303.9L317.3 304.1L319.0 303.9L319.9 305.1L321.3 305.1L322.8 305.1L323.6 305.9L325.0 306.0L326.3 306.3L327.7 306.5L329.0 306.8L330.3 307.1L331.7 307.3L333.0 307.6Z" fill="#2e2870"/></g>
<g clip-path="url(#cpG)"><g clip-path="url(#cpH)"><path d="M226.0 307.6L227.2 306.9L228.4 306.2L229.6 305.1L230.7 305.0L232.0 304.0L233.1 302.3L234.4 301.3L236.0 300.0L236.7 299.2L237.2 297.7L237.4 296.4L238.0 295.1L238.7 294.3L239.2 292.2L239.7 291.5L240.0 290.0L240.3 289.1L241.0 288.0L241.3 286.5L241.4 285.3L241.6 284.0L242.2 282.3L242.5 280.7L243.0 280.0L243.4 278.9L243.9 277.2L243.9 276.4L244.4 275.2L244.6 273.8L245.1 273.1L245.5 271.5L245.4 270.6L246.1 268.9L246.3 267.2L246.5 265.7L247.0 265.0L247.1 263.6L248.0 262.2L248.1 261.3L248.5 260.6L249.0 259.3L249.0 257.9L249.8 256.4L250.0 255.0L250.6 253.2L250.6 252.1L250.9 250.9L251.0 250.1L251.5 249.3L251.9 247.5L252.1 246.1L252.5 245.0L252.8 243.9L253.2 242.2L253.1 241.0L253.4 239.7L254.1 238.3L254.5 237.4L254.2 236.5L254.8 235.0L255.3 234.2L255.6 231.7L255.6 230.7L255.8 230.0L256.2 228.0L256.7 226.7L256.6 225.6L257.0 224.6L256.8 222.9L257.2 221.6L257.2 219.8L257.7 218.8L257.7 217.5L258.3 216.0L258.3 214.7L258.7 213.5L259.0 212.0L259.3 211.0L259.9 209.8L259.7 208.2L260.2 206.5L260.7 204.7L260.7 204.2L260.7 202.4L261.1 201.5L261.3 200.0L261.7 198.6L261.8 197.3L262.3 195.5L263.3 197.5L263.8 198.6L263.8 200.4L264.4 199.2L264.6 197.0L264.7 194.9L265.4 194.0L265.6 195.1L265.7 196.8L266.2 198.0L266.1 199.4L266.7 200.3L266.8 202.2L266.9 203.5L267.0 204.6L267.1 205.6L267.6 207.4L267.3 207.8L267.8 209.9L267.7 211.1L268.0 212.0L268.0 213.2L268.3 214.9L268.8 215.9L268.7 216.8L269.1 218.5L269.0 219.4L269.5 220.3L269.4 222.0L269.3 222.8L269.7 224.7L269.7 226.1L269.7 227.5L270.2 228.2L270.1 229.3L270.5 231.4L270.3 232.1L270.8 233.5L270.8 235.0L270.7 236.1L271.2 237.8L271.6 239.3L271.4 240.6L271.5 241.8L271.7 242.4L272.2 244.5L272.1 244.9L272.3 246.5L272.4 247.6L272.6 248.8L272.9 249.8L273.0 251.8L273.2 253.1L273.5 253.5L273.4 255.6L273.7 255.8L274.0 257.7L274.2 259.4L274.0 260.4L274.6 261.4L274.4 262.0L275.1 264.1L275.0 265.0L275.3 265.9L275.5 267.4L275.4 269.4L276.0 270.3L276.0 272.0L276.3 273.4L276.2 274.5L276.5 276.5L276.5 277.3L276.9 278.5L277.3 280.0L277.5 281.0L277.9 282.9L278.5 284.1L279.0 285.5L279.2 286.5L280.9 288.3L282.2 289.8L283.7 290.7L285.0 292.0L286.2 293.0L287.3 293.2L289.0 294.2L289.8 294.4L291.2 294.8L292.8 295.5L293.6 295.8L295.0 297.0L296.3 297.0L297.3 298.2L298.7 297.8L300.2 298.9L301.0 298.6L302.3 299.2L303.9 299.7L305.0 300.5L306.1 301.0L307.4 300.9L308.9 301.2L310.0 301.8L311.2 302.8L312.7 302.5L313.7 303.6L315.0 303.5L316.5 303.9L317.3 304.1L319.0 303.9L319.9 305.1L321.3 305.1L322.8 305.1L323.6 305.9L325.0 306.0L326.3 306.3L327.7 306.5L329.0 306.8L330.3 307.1L331.7 307.3L333.0 307.6Z" fill="#1e4632"/></g></g>
<path d="M205.0 307.6L206.4 307.4L207.8 307.2L209.2 306.9L210.6 306.7L212.0 306.5L213.3 306.4L214.5 306.2L215.8 306.1L217.0 305.2L218.5 305.6L219.6 305.9L220.8 305.5L221.9 304.9L223.3 305.0L224.8 305.6L226.4 305.1L227.4 304.5L228.9 304.2L230.0 304.5L231.4 303.6L232.6 304.6L233.4 303.3L234.5 304.0L236.0 303.5L237.3 303.1L238.7 303.5L239.9 303.0L241.3 302.6L242.4 302.4L244.0 301.5L245.0 301.6L246.5 300.9L248.0 300.0L248.9 299.9L250.1 299.2L251.5 299.5L253.0 298.9L254.2 298.1L255.3 297.1L257.0 297.0L258.0 296.5L259.6 295.8L260.8 293.6L262.2 293.4L263.8 292.0L265.4 290.6L267.0 289.0L268.8 287.1L270.0 286.5L270.2 285.5L270.6 283.9L271.2 282.2L271.5 281.0L271.8 279.2L272.3 278.0L273.8 277.3L275.0 277.0L276.0 276.3L277.5 276.2L279.5 277.5L281.0 278.8L281.9 280.5L283.0 281.5L284.2 283.4L285.3 284.0L286.3 285.6L287.5 286.5L289.6 288.4L292.0 289.5L293.1 290.7L294.8 291.0L295.9 291.4L297.5 292.8L298.9 293.8L300.0 294.4L301.7 294.7L303.5 295.8L305.3 296.9L306.9 297.0L308.3 297.2L310.0 298.5L311.0 298.4L312.2 299.1L313.8 299.6L315.1 300.9L316.5 301.0L317.9 301.6L319.0 302.2L321.0 303.1L322.5 303.2L324.1 303.4L326.0 304.0L326.9 304.4L328.5 305.0L329.9 305.5L331.1 306.3L332.6 307.0L334.0 307.6Z" fill="#de6469"/>
<g clip-path="url(#cpC)"><path d="M205.0 307.6L206.4 307.4L207.8 307.2L209.2 306.9L210.6 306.7L212.0 306.5L213.3 306.4L214.5 306.2L215.8 306.1L217.0 305.2L218.5 305.6L219.6 305.9L220.8 305.5L221.9 304.9L223.3 305.0L224.8 305.6L226.4 305.1L227.4 304.5L228.9 304.2L230.0 304.5L231.4 303.6L232.6 304.6L233.4 303.3L234.5 304.0L236.0 303.5L237.3 303.1L238.7 303.5L239.9 303.0L241.3 302.6L242.4 302.4L244.0 301.5L245.0 301.6L246.5 300.9L248.0 300.0L248.9 299.9L250.1 299.2L251.5 299.5L253.0 298.9L254.2 298.1L255.3 297.1L257.0 297.0L258.0 296.5L259.6 295.8L260.8 293.6L262.2 293.4L263.8 292.0L265.4 290.6L267.0 289.0L268.8 287.1L270.0 286.5L270.2 285.5L270.6 283.9L271.2 282.2L271.5 281.0L271.8 279.2L272.3 278.0L273.8 277.3L275.0 277.0L276.0 276.3L277.5 276.2L279.5 277.5L281.0 278.8L281.9 280.5L283.0 281.5L284.2 283.4L285.3 284.0L286.3 285.6L287.5 286.5L289.6 288.4L292.0 289.5L293.1 290.7L294.8 291.0L295.9 291.4L297.5 292.8L298.9 293.8L300.0 294.4L301.7 294.7L303.5 295.8L305.3 296.9L306.9 297.0L308.3 297.2L310.0 298.5L311.0 298.4L312.2 299.1L313.8 299.6L315.1 300.9L316.5 301.0L317.9 301.6L319.0 302.2L321.0 303.1L322.5 303.2L324.1 303.4L326.0 304.0L326.9 304.4L328.5 305.0L329.9 305.5L331.1 306.3L332.6 307.0L334.0 307.6Z" fill="#c81e6e"/></g>
<g clip-path="url(#cpH)"><path d="M205.0 307.6L206.4 307.4L207.8 307.2L209.2 306.9L210.6 306.7L212.0 306.5L213.3 306.4L214.5 306.2L215.8 306.1L217.0 305.2L218.5 305.6L219.6 305.9L220.8 305.5L221.9 304.9L223.3 305.0L224.8 305.6L226.4 305.1L227.4 304.5L228.9 304.2L230.0 304.5L231.4 303.6L232.6 304.6L233.4 303.3L234.5 304.0L236.0 303.5L237.3 303.1L238.7 303.5L239.9 303.0L241.3 302.6L242.4 302.4L244.0 301.5L245.0 301.6L246.5 300.9L248.0 300.0L248.9 299.9L250.1 299.2L251.5 299.5L253.0 298.9L254.2 298.1L255.3 297.1L257.0 297.0L258.0 296.5L259.6 295.8L260.8 293.6L262.2 293.4L263.8 292.0L265.4 290.6L267.0 289.0L268.8 287.1L270.0 286.5L270.2 285.5L270.6 283.9L271.2 282.2L271.5 281.0L271.8 279.2L272.3 278.0L273.8 277.3L275.0 277.0L276.0 276.3L277.5 276.2L279.5 277.5L281.0 278.8L281.9 280.5L283.0 281.5L284.2 283.4L285.3 284.0L286.3 285.6L287.5 286.5L289.6 288.4L292.0 289.5L293.1 290.7L294.8 291.0L295.9 291.4L297.5 292.8L298.9 293.8L300.0 294.4L301.7 294.7L303.5 295.8L305.3 296.9L306.9 297.0L308.3 297.2L310.0 298.5L311.0 298.4L312.2 299.1L313.8 299.6L315.1 300.9L316.5 301.0L317.9 301.6L319.0 302.2L321.0 303.1L322.5 303.2L324.1 303.4L326.0 304.0L326.9 304.4L328.5 305.0L329.9 305.5L331.1 306.3L332.6 307.0L334.0 307.6Z" fill="#a0161e"/></g>
<g clip-path="url(#cpG)"><path d="M205.0 307.6L206.4 307.4L207.8 307.2L209.2 306.9L210.6 306.7L212.0 306.5L213.3 306.4L214.5 306.2L215.8 306.1L217.0 305.2L218.5 305.6L219.6 305.9L220.8 305.5L221.9 304.9L223.3 305.0L224.8 305.6L226.4 305.1L227.4 304.5L228.9 304.2L230.0 304.5L231.4 303.6L232.6 304.6L233.4 303.3L234.5 304.0L236.0 303.5L237.3 303.1L238.7 303.5L239.9 303.0L241.3 302.6L242.4 302.4L244.0 301.5L245.0 301.6L246.5 300.9L248.0 300.0L248.9 299.9L250.1 299.2L251.5 299.5L253.0 298.9L254.2 298.1L255.3 297.1L257.0 297.0L258.0 296.5L259.6 295.8L260.8 293.6L262.2 293.4L263.8 292.0L265.4 290.6L267.0 289.0L268.8 287.1L270.0 286.5L270.2 285.5L270.6 283.9L271.2 282.2L271.5 281.0L271.8 279.2L272.3 278.0L273.8 277.3L275.0 277.0L276.0 276.3L277.5 276.2L279.5 277.5L281.0 278.8L281.9 280.5L283.0 281.5L284.2 283.4L285.3 284.0L286.3 285.6L287.5 286.5L289.6 288.4L292.0 289.5L293.1 290.7L294.8 291.0L295.9 291.4L297.5 292.8L298.9 293.8L300.0 294.4L301.7 294.7L303.5 295.8L305.3 296.9L306.9 297.0L308.3 297.2L310.0 298.5L311.0 298.4L312.2 299.1L313.8 299.6L315.1 300.9L316.5 301.0L317.9 301.6L319.0 302.2L321.0 303.1L322.5 303.2L324.1 303.4L326.0 304.0L326.9 304.4L328.5 305.0L329.9 305.5L331.1 306.3L332.6 307.0L334.0 307.6Z" fill="#a0161e"/></g>
<path d="M192.0 307.6L193.2 307.2L194.4 306.8L195.6 306.3L196.8 305.9L198.0 305.5L199.2 305.3L200.6 304.0L201.8 302.9L203.0 302.5L204.5 301.8L205.5 300.3L207.0 300.0L207.9 298.2L208.2 297.6L209.4 296.6L209.9 294.9L210.3 293.0L211.0 292.1L212.0 290.8L212.7 289.0L213.7 287.3L214.8 286.4L215.5 285.0L216.3 283.6L217.0 282.2L217.5 280.8L218.3 279.5L219.0 278.8L219.3 277.4L219.5 275.5L219.8 274.2L220.5 273.6L221.0 272.0L221.3 271.1L222.0 269.9L222.0 267.4L222.5 267.2L222.9 265.9L223.3 264.0L223.7 262.2L223.8 261.7L224.1 259.5L224.7 259.2L224.7 256.9L225.2 256.0L225.2 254.3L225.5 253.8L226.0 252.3L226.4 250.6L226.6 249.2L226.8 248.4L227.1 246.6L227.3 245.4L227.9 244.9L228.0 243.0L228.5 241.5L228.5 240.2L228.9 239.7L229.1 238.0L229.6 236.1L229.5 234.9L229.7 234.1L230.1 232.4L230.1 230.8L230.7 229.1L231.1 227.9L231.3 226.6L231.6 225.4L231.8 224.6L232.2 222.8L232.1 221.3L233.1 219.4L234.6 218.3L235.2 217.4L235.2 215.1L235.8 214.0L236.3 213.0L236.6 211.1L236.6 210.2L236.9 209.2L236.8 207.1L237.2 205.7L239.0 205.4L241.2 205.2L241.5 203.3L241.4 202.3L241.5 201.0L241.4 200.0L241.4 198.8L241.7 196.9L241.7 196.0L241.9 194.0L242.6 193.1L242.7 191.5L243.7 193.0L243.7 194.4L243.9 196.1L244.1 196.2L244.4 198.1L244.4 199.3L244.8 200.2L245.0 201.8L245.7 202.8L245.7 204.2L246.0 206.2L246.2 207.2L246.0 208.0L246.7 209.2L246.7 211.2L247.4 212.7L247.7 213.2L248.2 215.0L248.5 216.3L249.1 217.3L249.2 218.3L249.7 220.3L249.8 221.3L250.3 223.0L250.7 224.4L250.8 225.4L251.0 226.5L251.3 228.4L251.3 229.1L251.3 230.4L251.4 232.1L251.4 233.1L251.6 234.3L251.7 235.0L251.9 237.3L251.8 238.0L252.0 239.7L252.3 241.1L252.7 242.1L252.9 243.1L253.0 245.0L253.4 245.8L253.4 247.8L253.9 249.4L254.5 250.7L254.5 252.0L254.4 253.0L254.9 254.4L254.8 255.5L255.2 257.7L255.5 258.4L255.6 259.6L255.6 260.7L256.0 262.8L255.9 264.2L256.1 265.0L256.1 266.3L256.4 267.1L256.8 269.2L257.0 270.3L256.7 271.0L256.9 272.4L257.2 273.4L257.4 275.2L257.7 276.0L257.7 278.1L257.6 278.2L258.0 280.0L257.9 281.7L258.4 282.8L258.8 283.5L258.6 284.4L258.7 286.2L259.0 287.9L259.1 288.3L259.6 290.0L259.9 291.4L260.3 292.7L260.8 294.1L260.6 295.2L260.9 296.2L261.4 296.9L261.5 299.0L262.0 300.0L262.9 301.1L264.0 303.0L265.2 304.3L266.0 305.5L267.3 306.2L268.7 306.9L270.0 307.6Z" fill="none" stroke="#2e6e34" stroke-width="0.7" stroke-opacity="0.8"/>
<path d="M198.0 307.6L199.2 307.0L200.5 306.3L201.9 305.5L203.0 305.0L204.1 304.7L205.8 303.9L207.0 302.5L208.8 300.8L210.6 300.0L212.5 298.7L214.0 297.0L215.8 295.2L217.6 293.6L218.7 292.9L219.5 291.7L220.5 290.0L221.7 288.5L223.3 286.6L224.4 285.3L225.2 283.7L226.0 282.0L227.0 280.3L227.8 279.9L228.4 278.1L229.0 276.7L230.0 275.2L230.4 274.5L231.2 272.3L232.0 271.5L233.2 269.8L234.0 268.0L234.7 266.7L236.0 265.4L236.2 264.5L236.6 263.3L237.4 261.5L237.5 260.0L238.2 259.3L238.5 258.0L239.0 257.2L239.3 256.1L239.5 254.9L240.1 252.9L240.5 252.0L241.7 249.8L242.1 248.2L242.2 247.2L242.5 246.1L242.7 244.1L243.0 243.0L243.5 242.2L243.7 240.2L243.8 239.9L243.8 238.2L244.3 237.0L244.5 235.7L245.0 234.3L246.2 233.1L247.0 231.0L248.7 230.1L250.0 229.5L251.5 228.5L253.0 226.8L254.4 226.0L256.0 226.3L257.5 228.0L258.2 229.3L259.0 230.5L259.8 232.2L261.1 233.5L262.3 235.0L262.8 236.8L262.8 237.2L263.0 238.3L263.5 240.4L263.4 241.2L263.9 242.1L263.8 244.3L264.3 245.0L264.2 246.6L264.5 247.1L264.8 249.0L265.1 249.8L265.4 250.8L265.4 252.0L265.4 253.5L265.8 255.0L266.0 256.3L266.2 257.4L266.2 258.8L266.7 259.6L266.9 261.4L267.1 262.9L267.1 264.2L267.5 265.0L267.7 266.5L267.5 268.0L267.9 268.5L268.0 269.7L267.6 271.7L268.0 272.2L267.7 273.5L268.0 275.4L267.8 276.6L268.2 277.4L268.0 278.2L268.5 280.2L268.1 281.8L268.5 282.5L268.5 283.8L268.5 285.0L268.2 285.9L268.2 287.0L268.5 288.8L268.3 290.1L268.3 290.9L268.8 292.9L268.3 294.3L268.5 295.0L269.3 295.9L269.7 297.8L270.0 299.0L270.5 300.6L271.0 302.0L271.4 303.5L272.5 304.9L273.0 306.0L275.0 307.6Z" fill="none" stroke="#1a2a1a" stroke-width="0.7" stroke-opacity="0.6"/>
<path d="M226.0 307.6L227.2 306.9L228.4 306.2L229.6 305.1L230.7 305.0L232.0 304.0L233.1 302.3L234.4 301.3L236.0 300.0L236.7 299.2L237.2 297.7L237.4 296.4L238.0 295.1L238.7 294.3L239.2 292.2L239.7 291.5L240.0 290.0L240.3 289.1L241.0 288.0L241.3 286.5L241.4 285.3L241.6 284.0L242.2 282.3L242.5 280.7L243.0 280.0L243.4 278.9L243.9 277.2L243.9 276.4L244.4 275.2L244.6 273.8L245.1 273.1L245.5 271.5L245.4 270.6L246.1 268.9L246.3 267.2L246.5 265.7L247.0 265.0L247.1 263.6L248.0 262.2L248.1 261.3L248.5 260.6L249.0 259.3L249.0 257.9L249.8 256.4L250.0 255.0L250.6 253.2L250.6 252.1L250.9 250.9L251.0 250.1L251.5 249.3L251.9 247.5L252.1 246.1L252.5 245.0L252.8 243.9L253.2 242.2L253.1 241.0L253.4 239.7L254.1 238.3L254.5 237.4L254.2 236.5L254.8 235.0L255.3 234.2L255.6 231.7L255.6 230.7L255.8 230.0L256.2 228.0L256.7 226.7L256.6 225.6L257.0 224.6L256.8 222.9L257.2 221.6L257.2 219.8L257.7 218.8L257.7 217.5L258.3 216.0L258.3 214.7L258.7 213.5L259.0 212.0L259.3 211.0L259.9 209.8L259.7 208.2L260.2 206.5L260.7 204.7L260.7 204.2L260.7 202.4L261.1 201.5L261.3 200.0L261.7 198.6L261.8 197.3L262.3 195.5L263.3 197.5L263.8 198.6L263.8 200.4L264.4 199.2L264.6 197.0L264.7 194.9L265.4 194.0L265.6 195.1L265.7 196.8L266.2 198.0L266.1 199.4L266.7 200.3L266.8 202.2L266.9 203.5L267.0 204.6L267.1 205.6L267.6 207.4L267.3 207.8L267.8 209.9L267.7 211.1L268.0 212.0L268.0 213.2L268.3 214.9L268.8 215.9L268.7 216.8L269.1 218.5L269.0 219.4L269.5 220.3L269.4 222.0L269.3 222.8L269.7 224.7L269.7 226.1L269.7 227.5L270.2 228.2L270.1 229.3L270.5 231.4L270.3 232.1L270.8 233.5L270.8 235.0L270.7 236.1L271.2 237.8L271.6 239.3L271.4 240.6L271.5 241.8L271.7 242.4L272.2 244.5L272.1 244.9L272.3 246.5L272.4 247.6L272.6 248.8L272.9 249.8L273.0 251.8L273.2 253.1L273.5 253.5L273.4 255.6L273.7 255.8L274.0 257.7L274.2 259.4L274.0 260.4L274.6 261.4L274.4 262.0L275.1 264.1L275.0 265.0L275.3 265.9L275.5 267.4L275.4 269.4L276.0 270.3L276.0 272.0L276.3 273.4L276.2 274.5L276.5 276.5L276.5 277.3L276.9 278.5L277.3 280.0L277.5 281.0L277.9 282.9L278.5 284.1L279.0 285.5L279.2 286.5L280.9 288.3L282.2 289.8L283.7 290.7L285.0 292.0L286.2 293.0L287.3 293.2L289.0 294.2L289.8 294.4L291.2 294.8L292.8 295.5L293.6 295.8L295.0 297.0L296.3 297.0L297.3 298.2L298.7 297.8L300.2 298.9L301.0 298.6L302.3 299.2L303.9 299.7L305.0 300.5L306.1 301.0L307.4 300.9L308.9 301.2L310.0 301.8L311.2 302.8L312.7 302.5L313.7 303.6L315.0 303.5L316.5 303.9L317.3 304.1L319.0 303.9L319.9 305.1L321.3 305.1L322.8 305.1L323.6 305.9L325.0 306.0L326.3 306.3L327.7 306.5L329.0 306.8L330.3 307.1L331.7 307.3L333.0 307.6Z" fill="none" stroke="#2a2a6a" stroke-width="0.7" stroke-opacity="0.6"/>
<path d="M205.0 307.6L206.4 307.4L207.8 307.2L209.2 306.9L210.6 306.7L212.0 306.5L213.3 306.4L214.5 306.2L215.8 306.1L217.0 305.2L218.5 305.6L219.6 305.9L220.8 305.5L221.9 304.9L223.3 305.0L224.8 305.6L226.4 305.1L227.4 304.5L228.9 304.2L230.0 304.5L231.4 303.6L232.6 304.6L233.4 303.3L234.5 304.0L236.0 303.5L237.3 303.1L238.7 303.5L239.9 303.0L241.3 302.6L242.4 302.4L244.0 301.5L245.0 301.6L246.5 300.9L248.0 300.0L248.9 299.9L250.1 299.2L251.5 299.5L253.0 298.9L254.2 298.1L255.3 297.1L257.0 297.0L258.0 296.5L259.6 295.8L260.8 293.6L262.2 293.4L263.8 292.0L265.4 290.6L267.0 289.0L268.8 287.1L270.0 286.5L270.2 285.5L270.6 283.9L271.2 282.2L271.5 281.0L271.8 279.2L272.3 278.0L273.8 277.3L275.0 277.0L276.0 276.3L277.5 276.2L279.5 277.5L281.0 278.8L281.9 280.5L283.0 281.5L284.2 283.4L285.3 284.0L286.3 285.6L287.5 286.5L289.6 288.4L292.0 289.5L293.1 290.7L294.8 291.0L295.9 291.4L297.5 292.8L298.9 293.8L300.0 294.4L301.7 294.7L303.5 295.8L305.3 296.9L306.9 297.0L308.3 297.2L310.0 298.5L311.0 298.4L312.2 299.1L313.8 299.6L315.1 300.9L316.5 301.0L317.9 301.6L319.0 302.2L321.0 303.1L322.5 303.2L324.1 303.4L326.0 304.0L326.9 304.4L328.5 305.0L329.9 305.5L331.1 306.3L332.6 307.0L334.0 307.6Z" fill="none" stroke="#901020" stroke-width="0.7" stroke-opacity="0.7"/>
<path d="M184.5 190.9H381.8V307.6" fill="none" stroke="#a0a0a0" stroke-width="1.2"/>
<line x1="184.5" y1="190.3" x2="184.5" y2="308.2" stroke="#333" stroke-width="1.1" />
<line x1="183.9" y1="307.6" x2="381.8" y2="307.6" stroke="#333" stroke-width="1.1" />
<text x="185.3" y="210.9" font-size="12.6" text-anchor="start" fill="#3a9a52" stroke="#3a9a52" stroke-width="0.45" >TEMRA</text>
<text x="226.6" y="225.5" font-size="12.6" text-anchor="end" fill="#3a9a52" stroke="#3a9a52" stroke-width="0.45" >281</text>
<text x="185.3" y="261.8" font-size="12.6" text-anchor="start" fill="#000" stroke="#000" stroke-width="0.45" >TEMH1</text>
<text x="226" y="275.9" font-size="12.6" text-anchor="end" fill="#000" stroke="#000" stroke-width="0.45" >443</text>
<text x="278" y="210.9" font-size="12.6" text-anchor="start" fill="#2b2b70" stroke="#2b2b70" stroke-width="0.45" >CM</text>
<text x="278.6" y="225.5" font-size="12.6" text-anchor="start" fill="#2b2b70" stroke="#2b2b70" stroke-width="0.45" >1028</text>
<text x="295.8" y="271.9" font-size="12.6" text-anchor="start" fill="#b0243a" stroke="#b0243a" stroke-width="0.45" >Naïve</text>
<text x="295.8" y="286.4" font-size="12.6" text-anchor="start" fill="#b0243a" stroke="#b0243a" stroke-width="0.45" >2819</text>
<text x="269.5" y="336.1" font-size="13.2" text-anchor="middle" fill="#000" stroke="#000" stroke-width="0.45" >BTLA</text>
<path d="M60.9 252.5h1v1h-1zM53.3 261.4h1v1h-1zM57.2 258.6h1v1h-1zM58.6 259.1h1v1h-1zM48.2 259.6h1v1h-1zM61.9 263.5h1v1h-1zM53.3 265.2h1v1h-1zM58.8 262.2h1v1h-1zM52.5 264.2h1v1h-1zM58.8 264.7h1v1h-1zM61.1 260.2h1v1h-1zM61.7 260.9h1v1h-1zM55.2 265.5h1v1h-1zM57.6 263.3h1v1h-1zM58.3 253.6h1v1h-1zM65.2 260.4h1v1h-1zM62.5 258.9h1v1h-1zM43.8 264.5h1v1h-1zM53.8 262.1h1v1h-1zM47.0 258.9h1v1h-1zM57.2 257.5h1v1h-1zM56.6 259.4h1v1h-1zM53.7 257.5h1v1h-1zM69.3 267.0h1v1h-1zM62.3 256.4h1v1h-1zM56.0 270.8h1v1h-1zM55.8 264.2h1v1h-1zM64.0 258.9h1v1h-1zM56.7 268.0h1v1h-1zM61.7 271.6h1v1h-1zM51.9 270.6h1v1h-1zM50.7 265.9h1v1h-1zM56.8 264.2h1v1h-1zM60.3 263.5h1v1h-1zM55.3 264.1h1v1h-1zM53.0 263.5h1v1h-1zM56.3 267.4h1v1h-1zM55.6 267.9h1v1h-1zM50.9 260.3h1v1h-1zM60.1 263.1h1v1h-1zM62.7 265.6h1v1h-1zM52.0 263.5h1v1h-1zM54.3 264.3h1v1h-1zM52.1 267.3h1v1h-1zM60.3 258.7h1v1h-1zM56.4 261.6h1v1h-1zM56.7 257.6h1v1h-1zM47.7 260.7h1v1h-1zM56.2 258.9h1v1h-1zM46.8 270.3h1v1h-1zM54.3 252.4h1v1h-1zM47.7 263.5h1v1h-1zM51.9 259.0h1v1h-1zM51.1 258.3h1v1h-1zM54.5 265.9h1v1h-1zM61.3 256.7h1v1h-1zM52.9 267.0h1v1h-1zM66.0 260.8h1v1h-1zM68.8 260.5h1v1h-1zM58.4 268.3h1v1h-1zM65.9 255.4h1v1h-1zM61.4 262.7h1v1h-1zM52.7 268.5h1v1h-1zM56.8 265.1h1v1h-1zM47.8 262.6h1v1h-1zM50.3 263.3h1v1h-1zM55.4 263.5h1v1h-1zM52.3 254.1h1v1h-1zM61.4 259.5h1v1h-1zM49.2 269.3h1v1h-1zM57.5 264.3h1v1h-1zM60.8 260.0h1v1h-1zM54.3 266.7h1v1h-1zM63.7 273.0h1v1h-1zM43.3 259.5h1v1h-1zM51.2 266.7h1v1h-1zM56.2 262.6h1v1h-1zM56.2 260.8h1v1h-1zM62.4 259.0h1v1h-1zM57.7 254.8h1v1h-1zM58.4 264.6h1v1h-1zM47.8 260.0h1v1h-1zM64.9 264.4h1v1h-1zM57.9 268.2h1v1h-1zM53.5 264.7h1v1h-1zM63.2 260.1h1v1h-1zM56.7 264.4h1v1h-1zM61.5 254.7h1v1h-1zM59.4 264.3h1v1h-1zM54.3 260.5h1v1h-1zM59.5 255.8h1v1h-1zM56.1 262.4h1v1h-1zM57.3 259.0h1v1h-1zM52.8 262.8h1v1h-1zM56.2 264.2h1v1h-1zM52.2 262.8h1v1h-1zM63.5 262.4h1v1h-1zM57.8 255.7h1v1h-1zM56.5 263.7h1v1h-1zM52.6 268.3h1v1h-1zM47.7 264.1h1v1h-1zM64.5 264.1h1v1h-1zM58.1 267.8h1v1h-1zM64.5 258.9h1v1h-1zM40.7 258.7h1v1h-1zM59.6 265.8h1v1h-1zM62.7 267.2h1v1h-1zM58.3 254.2h1v1h-1zM63.5 267.1h1v1h-1zM58.0 260.8h1v1h-1zM66.4 262.8h1v1h-1zM60.5 262.0h1v1h-1zM53.3 262.5h1v1h-1zM49.1 264.8h1v1h-1zM50.7 262.8h1v1h-1zM59.2 253.5h1v1h-1zM56.5 264.2h1v1h-1zM56.4 263.5h1v1h-1zM52.3 273.0h1v1h-1zM55.6 266.2h1v1h-1zM64.2 260.4h1v1h-1zM47.5 267.8h1v1h-1zM63.8 259.1h1v1h-1zM57.0 257.0h1v1h-1zM60.7 267.0h1v1h-1zM50.6 264.5h1v1h-1zM57.1 260.3h1v1h-1zM68.3 263.0h1v1h-1zM51.2 268.8h1v1h-1zM55.7 260.4h1v1h-1zM62.7 255.6h1v1h-1zM65.3 270.1h1v1h-1zM63.8 265.1h1v1h-1zM64.5 256.4h1v1h-1zM67.6 259.2h1v1h-1zM64.6 261.7h1v1h-1zM65.1 257.5h1v1h-1zM61.4 263.0h1v1h-1zM59.0 263.6h1v1h-1zM63.1 263.9h1v1h-1zM65.5 261.7h1v1h-1zM67.4 265.4h1v1h-1zM67.2 264.9h1v1h-1zM67.6 268.2h1v1h-1zM69.2 262.9h1v1h-1zM70.6 256.2h1v1h-1zM60.5 262.9h1v1h-1zM68.0 272.1h1v1h-1zM68.9 259.8h1v1h-1zM68.4 259.6h1v1h-1zM67.4 260.1h1v1h-1zM66.5 262.7h1v1h-1zM68.2 253.8h1v1h-1zM62.1 266.3h1v1h-1zM66.9 258.3h1v1h-1zM64.2 275.4h1v1h-1zM61.1 269.3h1v1h-1zM64.8 273.8h1v1h-1zM67.3 262.1h1v1h-1zM64.2 261.6h1v1h-1zM67.3 250.0h1v1h-1zM61.7 265.1h1v1h-1zM64.8 265.3h1v1h-1zM63.5 255.8h1v1h-1zM71.1 270.0h1v1h-1zM68.4 260.5h1v1h-1zM67.0 258.9h1v1h-1zM61.8 264.0h1v1h-1zM65.7 261.7h1v1h-1zM63.4 260.7h1v1h-1zM65.0 253.9h1v1h-1zM62.6 264.2h1v1h-1zM64.5 258.6h1v1h-1zM65.7 251.7h1v1h-1zM65.4 263.5h1v1h-1zM65.1 253.7h1v1h-1zM67.7 243.3h1v1h-1zM63.8 249.9h1v1h-1zM65.7 265.9h1v1h-1zM68.0 255.9h1v1h-1zM63.4 257.1h1v1h-1zM65.5 271.0h1v1h-1zM70.1 264.1h1v1h-1zM68.1 250.8h1v1h-1zM68.0 262.4h1v1h-1zM64.6 256.0h1v1h-1zM68.5 258.8h1v1h-1zM65.4 259.7h1v1h-1zM66.5 260.1h1v1h-1zM64.1 265.5h1v1h-1zM65.1 258.8h1v1h-1zM60.4 264.7h1v1h-1zM63.1 258.8h1v1h-1zM63.7 259.8h1v1h-1zM67.4 263.7h1v1h-1zM65.1 267.4h1v1h-1zM66.2 263.0h1v1h-1zM63.6 252.6h1v1h-1zM68.1 268.2h1v1h-1zM65.3 253.3h1v1h-1zM63.8 260.2h1v1h-1zM64.8 262.1h1v1h-1zM68.2 253.5h1v1h-1zM69.5 265.3h1v1h-1zM65.7 273.8h1v1h-1zM64.2 256.6h1v1h-1zM61.4 261.0h1v1h-1zM61.8 261.3h1v1h-1zM65.3 259.2h1v1h-1zM61.3 270.2h1v1h-1zM119.2 260.8h1v1h-1zM117.7 275.6h1v1h-1zM120.4 255.2h1v1h-1zM125.5 248.0h1v1h-1zM125.2 264.7h1v1h-1zM120.1 263.8h1v1h-1zM119.2 274.1h1v1h-1zM123.1 266.5h1v1h-1zM120.2 254.2h1v1h-1zM123.8 251.7h1v1h-1zM120.4 259.0h1v1h-1zM124.7 266.8h1v1h-1zM122.7 271.8h1v1h-1zM124.2 252.9h1v1h-1zM119.7 262.6h1v1h-1zM122.6 266.4h1v1h-1zM125.8 256.3h1v1h-1zM121.5 263.7h1v1h-1zM128.7 256.4h1v1h-1zM118.7 259.4h1v1h-1zM114.8 256.3h1v1h-1zM121.0 278.5h1v1h-1zM117.2 261.3h1v1h-1zM121.4 260.4h1v1h-1zM120.6 265.4h1v1h-1zM123.8 278.7h1v1h-1zM128.3 266.0h1v1h-1zM118.5 271.7h1v1h-1zM119.6 261.2h1v1h-1zM121.0 267.7h1v1h-1zM120.8 262.1h1v1h-1zM119.0 257.6h1v1h-1zM119.4 249.5h1v1h-1zM125.1 239.8h1v1h-1zM119.2 273.9h1v1h-1zM121.5 252.7h1v1h-1zM117.0 251.6h1v1h-1zM124.3 248.0h1v1h-1zM117.5 261.1h1v1h-1zM117.9 270.8h1v1h-1zM121.6 260.8h1v1h-1zM119.1 246.3h1v1h-1zM120.5 261.9h1v1h-1zM120.2 283.0h1v1h-1zM121.3 246.0h1v1h-1zM126.9 253.1h1v1h-1zM124.2 261.9h1v1h-1zM119.3 244.0h1v1h-1zM119.9 261.6h1v1h-1zM117.7 250.9h1v1h-1zM120.4 262.3h1v1h-1zM121.7 266.6h1v1h-1zM115.4 263.3h1v1h-1zM122.6 268.7h1v1h-1zM121.4 266.0h1v1h-1zM122.9 272.0h1v1h-1zM122.2 237.3h1v1h-1zM127.7 247.9h1v1h-1zM115.9 257.8h1v1h-1zM120.3 275.2h1v1h-1zM122.4 254.2h1v1h-1zM121.7 268.1h1v1h-1zM117.6 251.3h1v1h-1zM119.1 264.2h1v1h-1zM119.3 261.2h1v1h-1zM122.7 242.6h1v1h-1zM123.3 267.1h1v1h-1zM122.8 256.1h1v1h-1zM124.7 243.5h1v1h-1zM119.8 246.0h1v1h-1zM119.1 265.3h1v1h-1zM119.9 262.5h1v1h-1zM124.1 270.9h1v1h-1zM121.0 268.4h1v1h-1zM125.4 256.5h1v1h-1zM117.3 261.3h1v1h-1zM127.8 264.7h1v1h-1zM118.9 265.3h1v1h-1zM123.3 276.0h1v1h-1zM117.5 258.1h1v1h-1zM113.3 267.8h1v1h-1zM124.2 259.9h1v1h-1zM128.6 274.6h1v1h-1zM120.7 279.9h1v1h-1zM126.3 261.4h1v1h-1zM114.9 265.0h1v1h-1zM121.5 274.3h1v1h-1zM123.7 260.1h1v1h-1zM126.6 269.2h1v1h-1zM121.0 259.8h1v1h-1zM120.0 265.5h1v1h-1zM116.5 270.3h1v1h-1zM118.1 256.9h1v1h-1zM116.0 262.6h1v1h-1zM124.1 265.9h1v1h-1zM118.7 248.4h1v1h-1zM113.6 262.1h1v1h-1zM120.3 264.5h1v1h-1zM125.7 246.7h1v1h-1zM116.5 242.9h1v1h-1zM117.6 260.5h1v1h-1zM118.7 267.9h1v1h-1zM118.4 266.6h1v1h-1zM120.9 271.2h1v1h-1zM122.1 262.8h1v1h-1zM119.4 250.7h1v1h-1zM123.4 251.0h1v1h-1zM124.1 269.3h1v1h-1zM119.1 244.9h1v1h-1zM120.0 235.6h1v1h-1zM120.9 273.7h1v1h-1zM120.8 266.1h1v1h-1zM121.5 255.8h1v1h-1zM122.7 269.3h1v1h-1zM121.4 265.0h1v1h-1zM123.7 274.3h1v1h-1zM113.7 262.7h1v1h-1zM120.7 270.2h1v1h-1zM117.7 262.7h1v1h-1zM122.7 243.7h1v1h-1zM99.2 274.3h1v1h-1zM98.5 274.2h1v1h-1zM97.8 270.5h1v1h-1zM98.8 265.0h1v1h-1zM98.3 271.2h1v1h-1zM87.0 268.0h1v1h-1zM89.9 274.1h1v1h-1zM104.5 260.5h1v1h-1zM94.0 268.0h1v1h-1zM97.1 265.6h1v1h-1zM48.1 288.1h1v1h-1zM61.0 275.0h1v1h-1zM58.4 289.8h1v1h-1zM56.7 275.3h1v1h-1zM42.3 273.0h1v1h-1zM51.3 284.3h1v1h-1zM56.1 287.6h1v1h-1zM59.5 279.3h1v1h-1zM53.1 285.7h1v1h-1zM63.4 282.6h1v1h-1zM67.6 289.9h1v1h-1zM57.2 283.1h1v1h-1zM55.0 282.3h1v1h-1zM60.9 301.3h1v1h-1zM59.5 285.1h1v1h-1zM62.8 290.1h1v1h-1zM62.3 296.1h1v1h-1zM61.4 289.0h1v1h-1zM53.7 279.2h1v1h-1zM53.8 281.3h1v1h-1zM65.0 278.4h1v1h-1zM47.3 289.4h1v1h-1zM50.8 280.9h1v1h-1zM69.3 284.1h1v1h-1zM51.7 271.9h1v1h-1zM49.9 290.7h1v1h-1zM52.6 279.8h1v1h-1zM55.2 294.5h1v1h-1zM64.3 290.4h1v1h-1zM60.7 278.4h1v1h-1zM42.1 288.7h1v1h-1zM64.4 283.9h1v1h-1zM59.7 282.1h1v1h-1zM54.8 303.7h1v1h-1zM52.5 280.8h1v1h-1zM65.6 300.3h1v1h-1zM46.2 282.1h1v1h-1zM49.6 294.5h1v1h-1zM54.9 281.8h1v1h-1zM64.9 275.1h1v1h-1zM61.5 287.3h1v1h-1zM57.4 295.9h1v1h-1zM58.3 291.5h1v1h-1zM61.7 282.8h1v1h-1zM65.8 291.7h1v1h-1zM56.8 281.2h1v1h-1zM58.4 294.0h1v1h-1zM66.0 288.1h1v1h-1zM57.8 280.2h1v1h-1zM51.9 286.5h1v1h-1zM67.5 286.8h1v1h-1zM55.0 290.8h1v1h-1zM73.8 290.0h1v1h-1zM61.1 277.2h1v1h-1zM47.7 278.3h1v1h-1zM59.8 277.9h1v1h-1zM46.2 281.2h1v1h-1zM46.3 286.6h1v1h-1zM58.9 286.5h1v1h-1zM72.5 300.2h1v1h-1zM66.8 300.1h1v1h-1zM66.1 300.9h1v1h-1zM67.1 292.9h1v1h-1zM75.4 292.0h1v1h-1zM63.9 296.8h1v1h-1zM66.8 287.5h1v1h-1zM73.7 285.2h1v1h-1zM70.8 292.8h1v1h-1zM71.2 294.4h1v1h-1zM69.6 300.6h1v1h-1zM69.5 283.1h1v1h-1zM72.3 288.6h1v1h-1zM74.6 293.6h1v1h-1zM62.7 298.8h1v1h-1zM69.5 290.9h1v1h-1zM68.1 296.6h1v1h-1zM73.8 296.8h1v1h-1zM75.2 293.9h1v1h-1zM60.4 289.7h1v1h-1zM64.8 296.2h1v1h-1zM70.4 294.1h1v1h-1zM66.2 290.3h1v1h-1zM68.6 293.9h1v1h-1zM73.0 288.6h1v1h-1zM124.2 277.7h1v1h-1zM121.7 292.5h1v1h-1zM123.7 292.8h1v1h-1zM119.4 285.1h1v1h-1zM124.9 278.9h1v1h-1zM125.6 285.8h1v1h-1zM129.4 286.6h1v1h-1zM125.0 283.7h1v1h-1zM120.6 278.1h1v1h-1zM127.1 276.5h1v1h-1zM127.9 289.0h1v1h-1zM128.8 297.8h1v1h-1zM125.2 278.7h1v1h-1zM125.1 285.1h1v1h-1zM122.5 287.1h1v1h-1zM124.7 271.0h1v1h-1zM119.0 285.2h1v1h-1zM125.8 288.1h1v1h-1zM126.7 291.6h1v1h-1zM119.8 274.0h1v1h-1zM121.8 294.5h1v1h-1zM123.5 281.0h1v1h-1zM121.5 287.1h1v1h-1zM121.1 294.5h1v1h-1zM120.1 289.1h1v1h-1zM118.2 284.0h1v1h-1zM121.8 277.2h1v1h-1zM119.9 292.0h1v1h-1zM123.6 283.1h1v1h-1zM124.7 287.2h1v1h-1zM121.4 284.7h1v1h-1zM130.6 290.4h1v1h-1zM126.6 296.0h1v1h-1zM126.0 281.7h1v1h-1zM122.6 283.8h1v1h-1zM122.9 276.6h1v1h-1zM120.5 283.0h1v1h-1zM124.4 305.6h1v1h-1zM121.0 292.6h1v1h-1zM123.9 274.3h1v1h-1zM123.2 299.0h1v1h-1zM123.1 287.5h1v1h-1zM127.0 279.2h1v1h-1zM117.2 284.9h1v1h-1zM122.6 286.5h1v1h-1zM128.2 286.0h1v1h-1zM122.0 304.8h1v1h-1zM125.0 295.2h1v1h-1zM123.4 293.2h1v1h-1zM128.7 285.6h1v1h-1zM122.6 294.3h1v1h-1zM125.2 281.9h1v1h-1zM126.0 284.7h1v1h-1zM126.0 305.4h1v1h-1zM122.8 290.5h1v1h-1zM126.1 292.4h1v1h-1zM123.0 290.8h1v1h-1zM128.6 284.5h1v1h-1zM126.5 290.6h1v1h-1zM126.2 286.4h1v1h-1zM63.5 246.4h1v1h-1zM93.0 245.0h1v1h-1zM80.6 248.4h1v1h-1zM96.1 244.6h1v1h-1zM88.8 244.5h1v1h-1zM71.2 240.6h1v1h-1zM95.7 249.2h1v1h-1zM105.7 242.4h1v1h-1zM85.0 247.2h1v1h-1zM90.6 244.7h1v1h-1zM76.6 249.6h1v1h-1zM74.7 248.1h1v1h-1zM73.6 247.1h1v1h-1zM89.3 242.7h1v1h-1zM85.1 247.2h1v1h-1zM92.8 246.4h1v1h-1zM74.0 243.4h1v1h-1zM85.3 249.2h1v1h-1zM79.7 245.5h1v1h-1zM87.0 248.0h1v1h-1zM67.7 247.7h1v1h-1zM70.3 244.7h1v1h-1zM68.2 244.4h1v1h-1zM86.6 246.6h1v1h-1zM77.8 248.7h1v1h-1zM84.9 251.2h1v1h-1zM81.4 246.6h1v1h-1zM84.8 244.8h1v1h-1zM75.2 248.6h1v1h-1zM67.3 247.5h1v1h-1zM74.6 244.5h1v1h-1zM95.1 246.1h1v1h-1zM70.3 246.1h1v1h-1zM89.6 246.9h1v1h-1zM86.4 246.6h1v1h-1zM69.1 249.2h1v1h-1zM69.7 246.2h1v1h-1zM67.7 242.8h1v1h-1zM95.0 245.6h1v1h-1zM96.9 249.8h1v1h-1zM85.1 244.8h1v1h-1zM68.6 249.4h1v1h-1zM77.3 247.2h1v1h-1zM84.4 241.2h1v1h-1zM105.5 246.6h1v1h-1zM41.3 268.5h1v1h-1zM45.2 272.1h1v1h-1zM45.9 274.7h1v1h-1zM44.5 265.5h1v1h-1zM51.5 266.2h1v1h-1zM46.6 263.7h1v1h-1zM41.4 285.1h1v1h-1zM50.4 269.7h1v1h-1zM46.5 266.7h1v1h-1zM53.4 266.9h1v1h-1zM52.8 273.5h1v1h-1zM48.4 287.7h1v1h-1zM42.3 268.4h1v1h-1zM46.0 278.7h1v1h-1zM46.4 269.5h1v1h-1zM45.2 282.0h1v1h-1zM48.1 269.3h1v1h-1zM50.1 276.5h1v1h-1zM48.4 269.4h1v1h-1zM48.6 252.6h1v1h-1zM44.0 268.9h1v1h-1zM51.2 269.3h1v1h-1zM52.7 285.8h1v1h-1zM47.4 275.9h1v1h-1zM41.4 278.3h1v1h-1zM49.0 268.4h1v1h-1zM46.5 274.2h1v1h-1zM51.2 265.5h1v1h-1zM45.1 257.9h1v1h-1zM50.8 278.2h1v1h-1zM52.3 277.0h1v1h-1zM50.7 269.9h1v1h-1zM42.4 267.3h1v1h-1zM49.7 266.0h1v1h-1zM47.4 279.4h1v1h-1zM44.1 265.5h1v1h-1zM49.5 288.9h1v1h-1zM46.4 260.0h1v1h-1zM106.3 263.6h1v1h-1zM110.9 271.7h1v1h-1zM115.3 273.0h1v1h-1zM101.4 268.3h1v1h-1zM107.2 267.8h1v1h-1zM105.4 276.0h1v1h-1zM109.0 269.7h1v1h-1zM108.3 272.0h1v1h-1zM93.0 296.5h1v1h-1zM96.5 296.9h1v1h-1zM96.7 298.3h1v1h-1zM104.2 295.0h1v1h-1zM90.9 297.1h1v1h-1zM101.3 304.0h1v1h-1zM108.0 294.0h1v1h-1zM92.1 301.1h1v1h-1zM98.4 296.6h1v1h-1zM88.6 301.5h1v1h-1zM104.9 303.0h1v1h-1zM99.8 297.6h1v1h-1zM87.5 298.9h1v1h-1zM98.5 293.8h1v1h-1zM91.4 297.1h1v1h-1zM89.0 298.7h1v1h-1zM87.2 301.4h1v1h-1zM95.7 300.7h1v1h-1zM97.7 301.9h1v1h-1zM98.1 301.7h1v1h-1zM97.5 300.9h1v1h-1zM96.1 296.8h1v1h-1zM100.6 300.1h1v1h-1zM93.2 299.9h1v1h-1zM105.0 297.4h1v1h-1zM96.7 300.6h1v1h-1zM100.4 295.8h1v1h-1zM99.3 302.4h1v1h-1zM93.3 299.5h1v1h-1zM89.8 299.5h1v1h-1zM84.2 300.0h1v1h-1zM84.2 295.5h1v1h-1zM92.2 299.1h1v1h-1zM100.2 294.9h1v1h-1zM94.8 294.9h1v1h-1zM95.4 300.3h1v1h-1zM99.4 300.2h1v1h-1zM93.7 300.8h1v1h-1zM88.9 297.6h1v1h-1zM93.0 299.8h1v1h-1zM55.6 259.0h1v1h-1zM52.6 262.9h1v1h-1zM53.8 260.3h1v1h-1zM54.7 256.7h1v1h-1zM50.7 259.2h1v1h-1zM66.5 260.4h1v1h-1zM48.5 258.7h1v1h-1zM70.0 259.4h1v1h-1zM55.8 249.1h1v1h-1zM44.8 256.3h1v1h-1zM55.0 258.6h1v1h-1zM58.5 259.1h1v1h-1zM46.9 259.5h1v1h-1zM41.6 256.8h1v1h-1zM46.7 249.6h1v1h-1zM58.1 259.9h1v1h-1zM55.0 256.9h1v1h-1zM67.6 258.5h1v1h-1zM49.8 258.9h1v1h-1zM73.2 260.7h1v1h-1zM49.2 256.5h1v1h-1zM62.7 257.1h1v1h-1zM52.2 254.2h1v1h-1zM62.3 258.6h1v1h-1zM52.4 264.8h1v1h-1zM47.1 259.0h1v1h-1zM54.3 257.4h1v1h-1zM60.8 261.1h1v1h-1zM56.4 258.6h1v1h-1zM63.9 264.9h1v1h-1zM70.3 256.4h1v1h-1zM47.1 255.6h1v1h-1zM42.5 259.3h1v1h-1zM69.8 259.3h1v1h-1zM61.2 258.7h1v1h-1zM53.9 255.3h1v1h-1zM58.4 255.8h1v1h-1zM45.5 258.8h1v1h-1zM51.8 258.2h1v1h-1zM68.3 254.5h1v1h-1zM53.6 262.1h1v1h-1zM53.2 259.6h1v1h-1zM62.3 260.2h1v1h-1zM53.8 257.0h1v1h-1zM51.2 261.2h1v1h-1zM46.2 257.5h1v1h-1zM55.1 261.4h1v1h-1zM73.7 287.9h1v1h-1zM69.8 293.3h1v1h-1zM73.3 283.9h1v1h-1zM71.9 291.6h1v1h-1zM75.2 287.3h1v1h-1zM68.4 287.0h1v1h-1zM67.1 285.5h1v1h-1zM72.5 283.6h1v1h-1zM71.6 284.3h1v1h-1zM73.2 278.7h1v1h-1zM71.9 287.3h1v1h-1zM72.0 297.7h1v1h-1zM68.2 289.5h1v1h-1zM70.6 286.1h1v1h-1zM73.5 275.5h1v1h-1zM71.4 279.4h1v1h-1zM71.1 278.5h1v1h-1zM65.3 295.5h1v1h-1zM71.3 291.1h1v1h-1zM70.0 287.5h1v1h-1zM73.1 290.0h1v1h-1zM73.7 280.2h1v1h-1zM73.6 298.4h1v1h-1zM75.6 282.3h1v1h-1zM69.3 285.7h1v1h-1zM70.4 284.4h1v1h-1zM74.6 282.0h1v1h-1zM75.4 284.8h1v1h-1zM73.2 279.8h1v1h-1zM69.9 290.2h1v1h-1zM72.1 282.0h1v1h-1zM75.4 279.7h1v1h-1zM75.1 277.5h1v1h-1zM71.4 297.6h1v1h-1zM71.3 282.0h1v1h-1zM71.8 278.9h1v1h-1zM72.8 289.2h1v1h-1zM73.0 290.0h1v1h-1zM66.1 281.7h1v1h-1zM71.2 296.7h1v1h-1zM107.5 265.2h1v1h-1zM95.6 298.7h1v1h-1zM100.6 252.1h1v1h-1zM65.5 250.3h1v1h-1zM58.2 300.9h1v1h-1zM69.5 278.9h1v1h-1zM131.6 305.7h1v1h-1zM42.2 269.1h1v1h-1zM58.0 297.8h1v1h-1zM72.2 260.5h1v1h-1zM92.8 299.8h1v1h-1zM67.6 301.6h1v1h-1zM60.9 264.9h1v1h-1zM76.1 247.0h1v1h-1zM119.0 250.0h1v1h-1zM52.4 258.3h1v1h-1zM120.1 295.4h1v1h-1zM73.2 299.9h1v1h-1zM52.0 285.7h1v1h-1zM92.0 261.2h1v1h-1zM130.2 295.4h1v1h-1zM98.0 274.9h1v1h-1zM66.6 299.7h1v1h-1zM102.5 266.5h1v1h-1zM101.1 273.1h1v1h-1zM80.7 247.6h1v1h-1zM106.5 286.3h1v1h-1zM134.0 259.3h1v1h-1zM124.7 257.1h1v1h-1zM114.9 282.9h1v1h-1zM109.3 281.4h1v1h-1zM80.4 274.2h1v1h-1zM119.7 269.2h1v1h-1zM128.2 296.9h1v1h-1zM51.9 273.0h1v1h-1zM104.2 298.1h1v1h-1zM93.6 250.9h1v1h-1zM41.9 254.6h1v1h-1zM77.2 269.2h1v1h-1zM108.8 251.6h1v1h-1zM81.3 252.2h1v1h-1zM86.3 302.7h1v1h-1zM103.5 285.2h1v1h-1zM109.2 302.3h1v1h-1zM72.6 252.4h1v1h-1zM94.6 293.8h1v1h-1zM69.2 269.6h1v1h-1zM83.2 251.0h1v1h-1zM95.3 286.8h1v1h-1zM77.4 250.6h1v1h-1zM53.3 267.3h1v1h-1zM41.4 257.3h1v1h-1zM126.2 294.8h1v1h-1zM74.7 254.1h1v1h-1zM44.9 277.5h1v1h-1zM57.4 300.2h1v1h-1zM88.6 286.4h1v1h-1zM82.9 270.1h1v1h-1zM105.5 268.2h1v1h-1zM43.0 301.1h1v1h-1zM48.1 289.1h1v1h-1zM116.9 279.8h1v1h-1zM48.9 274.4h1v1h-1zM108.9 282.6h1v1h-1zM83.5 282.0h1v1h-1zM50.9 260.8h1v1h-1zM62.3 298.7h1v1h-1zM131.4 275.0h1v1h-1zM94.8 283.8h1v1h-1zM120.2 261.3h1v1h-1zM139.6 217.7h1v1h-1zM131.3 229.0h1v1h-1zM138.4 217.6h1v1h-1zM140.1 224.8h1v1h-1zM102.1 237.9h1v1h-1zM112.3 240.0h1v1h-1zM105.4 229.7h1v1h-1zM136.7 236.7h1v1h-1z" fill="#000" fill-opacity="0.72"/>
<path d="M86.9 269.4 V276.2 M109.8 264.7 V275.4 M117.5 246 C121 255 120 266 115.5 276 M70 268 C68.5 271 68.5 274 69.5 276.5" fill="none" stroke="#222" stroke-width="0.8" stroke-opacity="0.8"/>
<path d="M92.1 258.0L91.9 259.3L91.4 260.5L91.3 261.9L90.7 263.0L90.5 264.4L89.7 265.6L88.6 266.4L87.5 267.2L86.5 268.0L85.1 268.2L83.8 268.5L82.5 268.7L81.3 268.9L80.0 269.0L78.7 269.2L77.5 268.7L76.1 268.8L74.9 268.3L73.7 267.8L72.6 267.0L71.9 265.9L71.0 265.0L70.6 263.7L70.2 262.6L69.7 261.5L69.1 260.4L68.8 259.2L68.6 258.0L67.9 256.7L67.6 255.2L67.8 253.8L67.8 252.3L68.3 250.8L69.0 249.5L70.5 248.7L71.7 247.9L73.2 247.4L74.8 247.5L76.3 247.6L77.6 247.9L78.9 248.3L80.0 248.6L81.1 248.6L82.2 248.6L83.4 248.6L84.8 248.3L86.0 248.6L87.4 248.9L88.8 249.4L90.0 250.2L90.9 251.3L91.5 252.6L91.7 254.0L92.2 255.3L92.3 256.7Z M90.0 257.9L89.9 258.9L89.7 259.9L89.4 261.0L89.1 262.0L88.5 262.8L88.1 263.8L87.4 264.7L86.3 265.2L85.5 265.9L84.5 266.2L83.4 266.3L82.4 266.4L81.4 266.7L80.4 266.6L79.4 266.6L78.3 266.6L77.3 266.4L76.3 266.2L75.4 265.6L74.6 265.0L73.9 264.2L73.3 263.4L72.8 262.5L72.3 261.7L71.9 260.8L71.8 259.8L71.5 258.9L71.0 257.9L70.9 256.8L70.6 255.7L70.6 254.5L70.7 253.3L71.2 252.3L71.8 251.2L72.7 250.4L73.9 250.0L75.0 249.5L76.2 249.4L77.5 249.8L78.5 249.9L79.5 250.1L80.4 250.3L81.3 250.3L82.2 250.1L83.1 250.3L84.1 250.3L85.3 250.2L86.3 250.6L87.3 251.1L88.2 251.8L88.9 252.7L89.4 253.6L89.7 254.7L90.0 255.7L89.9 256.8Z M87.8 257.8L87.8 258.5L87.7 259.3L87.6 260.1L87.3 260.8L87.0 261.6L86.4 262.2L85.8 262.7L85.3 263.3L84.5 263.6L83.9 264.1L83.0 264.2L82.3 264.3L81.5 264.3L80.8 264.4L80.0 264.5L79.2 264.4L78.4 264.2L77.7 263.8L77.1 263.4L76.4 263.0L75.9 262.5L75.3 262.0L74.9 261.3L74.6 260.6L74.3 259.9L74.2 259.2L73.9 258.5L73.8 257.8L73.6 257.0L73.6 256.2L73.4 255.2L73.8 254.5L74.0 253.6L74.5 252.9L75.1 252.2L76.0 251.9L76.7 251.5L77.7 251.6L78.5 251.4L79.3 251.5L80.0 251.7L80.8 251.9L81.4 251.8L82.1 251.8L82.8 251.9L83.6 252.0L84.5 252.0L85.2 252.3L85.9 252.7L86.6 253.2L87.1 253.8L87.4 254.6L87.8 255.4L87.9 256.2L87.8 257.0Z M85.9 257.6L85.9 258.2L85.8 258.7L85.6 259.1L85.4 259.6L85.2 260.1L84.9 260.6L84.6 261.0L84.1 261.2L83.6 261.5L83.2 261.8L82.6 261.8L82.1 262.0L81.6 262.0L81.1 262.0L80.6 262.1L80.1 261.9L79.6 261.9L79.1 261.8L78.7 261.4L78.2 261.2L77.8 260.9L77.6 260.4L77.2 260.0L77.0 259.6L76.9 259.1L76.6 258.6L76.7 258.1L76.4 257.6L76.3 257.1L76.4 256.6L76.3 256.0L76.4 255.4L76.6 254.9L77.1 254.5L77.4 254.0L77.9 253.7L78.5 253.6L79.1 253.5L79.6 253.5L80.1 253.5L80.6 253.5L81.1 253.6L81.6 253.5L82.1 253.7L82.6 253.6L83.1 253.7L83.6 253.9L84.0 254.1L84.6 254.2L85.0 254.6L85.3 255.0L85.5 255.6L85.8 256.0L85.9 256.6L86.0 257.1Z M83.9 257.5L83.8 257.8L83.8 258.0L83.7 258.3L83.7 258.5L83.5 258.7L83.4 258.9L83.2 259.2L83.0 259.3L82.8 259.4L82.5 259.6L82.3 259.7L82.0 259.7L81.8 259.8L81.5 259.7L81.2 259.7L81.0 259.7L80.7 259.7L80.5 259.6L80.2 259.5L80.0 259.3L79.9 259.1L79.7 258.9L79.6 258.7L79.5 258.5L79.3 258.2L79.3 258.0L79.2 257.8L79.2 257.5L79.1 257.2L79.2 257.0L79.1 256.7L79.2 256.4L79.4 256.2L79.5 255.9L79.7 255.7L80.0 255.6L80.2 255.5L80.5 255.4L80.7 255.4L81.0 255.4L81.3 255.4L81.5 255.4L81.7 255.4L82.0 255.5L82.2 255.4L82.5 255.5L82.7 255.6L83.0 255.7L83.2 255.8L83.4 256.0L83.6 256.2L83.7 256.5L83.8 256.7L83.8 257.0L83.8 257.2Z" fill="none" stroke="#6a78b8" stroke-width="1.0" stroke-opacity="0.85"/>
<path d="M116.7 253.2L116.7 254.1L116.4 255.0L115.9 255.9L115.3 256.7L114.5 257.4L113.6 258.0L112.7 258.6L111.7 259.1L110.8 259.5L109.7 260.0L108.7 260.3L107.5 260.5L106.4 260.7L105.2 260.7L104.0 260.6L102.9 260.5L101.8 260.2L100.8 259.8L99.8 259.4L98.8 258.9L98.0 258.4L97.1 257.8L96.4 257.2L95.7 256.5L95.2 255.7L94.8 254.9L94.5 254.1L94.5 253.2L94.5 252.3L94.8 251.5L95.1 250.7L95.6 249.9L96.1 249.1L96.7 248.4L97.5 247.7L98.3 247.0L99.2 246.4L100.3 245.9L101.5 245.6L102.7 245.4L104.0 245.3L105.2 245.5L106.4 245.7L107.5 246.1L108.4 246.6L109.3 247.0L110.2 247.5L111.0 248.0L111.9 248.4L112.8 248.9L113.7 249.4L114.6 250.0L115.4 250.6L116.0 251.4L116.5 252.3Z" fill="none" stroke="#c8303c" stroke-width="1.0" stroke-opacity="0.9"/>
<path d="M108.2 253.2L108.4 253.9L108.2 254.6L108.0 255.3L107.9 256.0L107.5 256.6L107.0 257.2L106.5 257.7L105.7 258.0L105.1 258.4L104.3 258.4L103.5 258.5L102.9 258.6L102.2 258.7L101.5 258.7L100.8 258.8L100.1 258.7L99.4 258.7L98.6 258.6L97.8 258.5L97.1 258.3L96.5 257.7L96.0 257.2L95.8 256.5L95.6 255.8L95.4 255.1L95.4 254.5L95.5 253.8L95.7 253.2L95.6 252.6L95.6 252.0L95.5 251.3L95.5 250.6L95.6 249.8L95.8 249.1L96.1 248.3L96.8 247.8L97.4 247.3L98.3 247.2L99.1 246.9L100.0 247.2L100.8 247.2L101.5 247.3L102.2 247.7L102.8 248.0L103.5 248.1L104.1 248.3L104.7 248.6L105.3 248.9L105.9 249.2L106.3 249.7L107.0 250.1L107.4 250.6L107.8 251.2L107.9 251.9L108.2 252.5Z M106.4 253.2L106.4 253.7L106.5 254.3L106.3 254.8L106.1 255.3L105.8 255.7L105.4 256.1L105.0 256.4L104.5 256.8L104.1 257.1L103.5 257.2L102.9 257.2L102.4 257.3L101.9 257.3L101.4 257.3L100.9 257.4L100.4 257.4L99.8 257.3L99.2 257.3L98.7 257.1L98.2 256.8L97.8 256.5L97.5 256.1L97.1 255.7L96.9 255.2L96.9 254.6L97.0 254.1L97.0 253.7L97.0 253.2L97.1 252.8L96.9 252.3L97.0 251.8L97.1 251.3L97.1 250.8L97.3 250.2L97.6 249.7L98.0 249.3L98.5 249.0L99.0 248.7L99.7 248.8L100.3 248.7L100.8 248.7L101.4 249.0L101.9 249.1L102.4 249.1L102.9 249.4L103.3 249.6L103.8 249.7L104.2 250.0L104.7 250.2L105.0 250.6L105.4 250.9L105.7 251.3L106.0 251.7L106.3 252.2L106.3 252.7Z M104.6 253.2L104.5 253.5L104.5 253.9L104.5 254.2L104.3 254.5L104.1 254.8L103.9 255.1L103.6 255.3L103.3 255.5L103.0 255.6L102.6 255.7L102.3 255.9L102.0 255.9L101.6 255.9L101.3 256.0L101.0 256.0L100.6 255.9L100.3 255.8L99.9 255.8L99.6 255.7L99.2 255.6L99.0 255.3L98.8 255.0L98.6 254.8L98.4 254.5L98.4 254.1L98.3 253.8L98.3 253.5L98.4 253.2L98.4 252.9L98.4 252.6L98.4 252.3L98.5 252.0L98.5 251.6L98.6 251.3L98.8 251.0L99.1 250.7L99.5 250.5L99.8 250.4L100.2 250.4L100.6 250.3L100.9 250.3L101.3 250.4L101.6 250.5L102.0 250.6L102.3 250.6L102.6 250.8L102.9 250.9L103.2 251.0L103.4 251.2L103.7 251.4L103.9 251.7L104.1 252.0L104.3 252.3L104.4 252.6L104.5 252.9Z M102.7 253.2L102.7 253.4L102.7 253.5L102.6 253.7L102.6 253.8L102.5 253.9L102.4 254.0L102.3 254.2L102.1 254.3L102.0 254.3L101.8 254.4L101.7 254.4L101.5 254.5L101.4 254.4L101.2 254.5L101.0 254.5L100.9 254.4L100.7 254.5L100.6 254.4L100.4 254.3L100.3 254.3L100.1 254.2L100.0 254.1L99.9 253.9L99.9 253.8L99.9 253.6L99.8 253.5L99.8 253.3L99.8 253.2L99.8 253.1L99.8 252.9L99.8 252.8L99.9 252.6L99.9 252.5L100.0 252.3L100.1 252.2L100.2 252.1L100.4 252.0L100.5 251.9L100.7 251.9L100.9 251.9L101.0 251.9L101.2 251.9L101.4 251.9L101.5 252.0L101.7 252.0L101.8 252.1L101.9 252.1L102.1 252.2L102.2 252.3L102.3 252.4L102.4 252.5L102.5 252.6L102.6 252.8L102.6 252.9L102.7 253.0Z" fill="none" stroke="#c8303c" stroke-width="1.0" stroke-opacity="0.9"/>
<path d="M115.9 255.0L115.9 255.5L115.9 256.1L115.9 256.7L115.7 257.1L115.6 257.7L115.4 258.1L115.3 258.7L115.1 259.0L114.8 259.3L114.6 259.6L114.3 259.7L114.0 259.7L113.7 259.7L113.4 259.6L113.1 259.6L112.9 259.6L112.6 259.4L112.3 259.3L112.0 259.2L111.8 259.0L111.5 258.7L111.2 258.3L111.0 257.9L110.8 257.4L110.7 256.8L110.6 256.2L110.7 255.6L110.8 255.0L110.8 254.4L111.0 253.9L111.0 253.4L111.2 252.9L111.3 252.5L111.5 252.0L111.6 251.6L111.8 251.1L112.0 250.9L112.3 250.5L112.5 250.3L112.8 250.1L113.1 250.0L113.4 250.1L113.7 250.1L114.0 250.3L114.3 250.3L114.5 250.5L114.8 250.8L115.1 251.0L115.3 251.4L115.5 251.7L115.7 252.3L115.8 252.8L115.9 253.3L116.0 253.8L116.0 254.4Z M114.7 255.0L114.7 255.3L114.6 255.5L114.6 255.8L114.5 256.1L114.5 256.4L114.4 256.6L114.3 256.8L114.2 257.0L114.1 257.1L114.0 257.3L113.8 257.3L113.7 257.4L113.5 257.5L113.4 257.4L113.3 257.4L113.1 257.4L113.0 257.3L112.8 257.2L112.7 257.1L112.6 256.9L112.5 256.8L112.4 256.6L112.2 256.4L112.2 256.1L112.1 255.9L112.1 255.6L112.1 255.3L112.1 255.0L112.1 254.7L112.1 254.4L112.2 254.2L112.3 254.0L112.3 253.7L112.4 253.5L112.5 253.3L112.6 253.1L112.7 252.9L112.8 252.8L113.0 252.6L113.1 252.6L113.3 252.5L113.4 252.5L113.5 252.5L113.7 252.6L113.8 252.6L114.0 252.7L114.1 252.9L114.2 253.1L114.3 253.2L114.5 253.4L114.5 253.6L114.6 253.9L114.6 254.2L114.7 254.4L114.7 254.7Z" fill="none" stroke="#c8303c" stroke-width="1.0" stroke-opacity="0.9"/>
<path d="M96.7 288.5L96.5 289.7L96.3 290.8L95.8 291.9L95.0 292.8L94.2 293.7L93.3 294.4L92.6 295.2L91.6 295.7L90.8 296.3L90.0 297.0L89.1 297.6L88.1 298.2L87.0 299.1L85.8 299.6L84.5 300.1L83.1 300.0L81.8 299.8L80.6 299.2L79.3 298.6L78.5 297.5L77.8 296.3L77.6 295.0L77.1 293.9L76.9 292.7L76.7 291.6L76.8 290.5L76.2 289.6L75.8 288.5L75.7 287.4L75.7 286.2L75.7 285.0L76.1 283.9L76.6 282.8L77.1 281.7L78.1 280.9L79.0 280.2L80.3 279.8L81.3 279.3L82.3 278.8L83.5 278.8L84.6 278.4L85.8 278.2L87.0 278.2L88.2 278.1L89.4 278.3L90.5 278.8L91.7 279.3L92.8 279.9L93.4 281.1L94.4 281.8L94.8 282.9L95.4 283.9L95.8 285.1L96.1 286.2L96.6 287.3Z M95.1 288.9L95.2 289.9L95.1 290.9L94.6 291.8L93.9 292.5L93.3 293.2L92.8 293.9L92.0 294.4L91.3 295.0L90.5 295.3L89.8 295.9L89.0 296.4L88.2 296.8L87.4 297.4L86.4 297.9L85.3 298.1L84.2 298.4L83.1 298.1L82.2 297.5L81.4 296.8L80.7 296.0L80.1 295.1L79.8 294.1L79.5 293.2L79.1 292.4L79.1 291.5L78.9 290.6L78.6 289.8L78.4 288.9L78.3 288.1L78.2 287.1L78.2 286.1L78.5 285.2L78.9 284.3L79.6 283.6L80.3 282.9L81.0 282.3L81.9 281.9L82.8 281.5L83.6 281.1L84.5 280.8L85.4 280.7L86.4 280.7L87.4 280.7L88.3 280.7L89.3 280.9L90.3 281.0L91.2 281.5L91.9 282.2L92.7 282.8L93.3 283.5L93.8 284.4L94.3 285.2L94.6 286.1L95.0 287.0L95.0 288.0Z M93.7 289.4L93.8 290.1L93.5 290.9L93.4 291.6L92.8 292.2L92.3 292.7L91.9 293.2L91.3 293.6L90.8 294.0L90.2 294.4L89.6 294.7L89.0 295.1L88.4 295.6L87.8 296.0L87.0 296.1L86.2 296.3L85.4 296.3L84.6 296.2L83.8 295.8L83.1 295.5L82.6 294.9L82.2 294.1L81.8 293.4L81.6 292.7L81.4 292.0L81.2 291.4L81.2 290.7L80.9 290.1L80.8 289.4L80.8 288.7L80.7 288.0L80.8 287.3L80.9 286.5L81.3 285.9L81.8 285.3L82.3 284.8L82.9 284.4L83.5 283.9L84.2 283.7L84.8 283.3L85.6 283.2L86.3 283.2L87.0 283.0L87.8 282.8L88.5 282.9L89.3 283.0L89.9 283.5L90.6 283.8L91.2 284.3L91.8 284.7L92.3 285.2L92.6 286.0L92.9 286.6L93.3 287.2L93.5 287.9L93.7 288.7Z M92.3 289.9L92.4 290.4L92.1 290.9L92.0 291.4L91.7 291.8L91.4 292.2L91.0 292.5L90.6 292.8L90.3 293.2L89.9 293.4L89.5 293.7L89.1 294.0L88.6 294.2L88.1 294.3L87.6 294.6L87.1 294.6L86.5 294.8L85.9 294.6L85.4 294.4L84.9 294.1L84.5 293.6L84.3 293.1L83.9 292.7L83.7 292.2L83.6 291.8L83.5 291.3L83.4 290.8L83.3 290.3L83.3 289.9L83.1 289.3L83.1 288.8L83.3 288.4L83.3 287.8L83.6 287.4L83.9 287.0L84.3 286.6L84.7 286.3L85.1 286.0L85.6 285.7L86.1 285.6L86.6 285.4L87.1 285.3L87.6 285.4L88.1 285.3L88.6 285.3L89.2 285.4L89.6 285.7L90.1 285.9L90.6 286.2L90.9 286.6L91.3 287.0L91.6 287.4L91.9 287.8L92.0 288.3L92.2 288.8L92.2 289.3Z M90.9 290.3L90.9 290.6L90.8 290.9L90.7 291.2L90.6 291.4L90.4 291.6L90.2 291.9L90.0 292.1L89.7 292.2L89.5 292.4L89.3 292.5L89.0 292.6L88.8 292.8L88.5 292.9L88.2 293.0L87.9 293.0L87.6 293.1L87.2 293.0L87.0 292.8L86.7 292.6L86.4 292.5L86.3 292.2L86.2 291.9L86.0 291.6L85.9 291.4L85.9 291.1L85.7 290.8L85.7 290.6L85.7 290.3L85.6 290.0L85.6 289.7L85.7 289.4L85.8 289.1L85.9 288.9L86.1 288.7L86.3 288.4L86.5 288.3L86.8 288.1L87.0 287.9L87.3 287.8L87.6 287.8L87.9 287.8L88.2 287.7L88.5 287.8L88.8 287.7L89.1 287.8L89.4 287.9L89.6 288.0L89.9 288.2L90.1 288.4L90.3 288.7L90.5 288.9L90.6 289.1L90.7 289.5L90.8 289.7L90.8 290.0Z" fill="none" stroke="#111" stroke-width="0.9" stroke-opacity="0.95"/>
<path d="M121.4 290.0L121.3 291.3L121.0 292.6L120.8 293.9L119.9 295.0L119.2 296.0L118.5 297.1L117.5 297.8L116.3 298.3L115.2 298.7L113.9 298.7L112.9 299.1L111.9 299.6L110.9 299.5L109.8 300.0L108.7 300.3L107.4 300.8L106.2 300.6L104.9 300.4L103.6 300.1L102.3 299.6L101.4 298.5L100.6 297.5L100.1 296.2L99.7 294.9L99.5 293.7L99.6 292.4L99.8 291.2L99.7 290.0L99.3 288.8L99.5 287.6L99.4 286.3L99.7 285.1L100.0 283.7L100.9 282.7L101.6 281.6L102.6 280.8L103.8 280.2L105.1 280.1L106.4 280.0L107.5 279.8L108.7 279.8L109.8 280.0L110.9 279.9L112.1 280.0L113.2 280.1L114.2 280.6L115.4 280.8L116.6 281.3L117.6 282.0L118.4 283.0L119.2 284.0L120.0 285.0L120.7 286.1L120.7 287.5L121.2 288.7Z M118.3 290.1L118.3 291.2L118.3 292.2L118.0 293.2L117.3 294.1L116.8 294.9L116.1 295.7L115.4 296.3L114.5 296.8L113.6 297.2L112.7 297.3L111.9 297.7L111.0 297.8L110.2 298.0L109.3 298.3L108.4 298.5L107.4 298.7L106.3 298.8L105.4 298.4L104.4 298.1L103.4 297.7L102.7 296.8L102.2 295.9L101.6 295.1L101.5 293.9L101.1 293.0L101.3 292.0L101.2 291.1L101.1 290.1L101.1 289.2L101.1 288.2L101.0 287.2L101.2 286.2L101.8 285.3L102.1 284.3L102.8 283.5L103.7 282.9L104.5 282.4L105.5 282.1L106.5 282.0L107.5 282.1L108.4 281.9L109.3 282.1L110.2 281.9L111.1 282.1L112.0 282.2L112.9 282.4L113.8 282.8L114.7 283.2L115.5 283.8L116.2 284.5L116.8 285.3L117.5 286.1L117.8 287.1L118.1 288.1L118.4 289.1Z M115.5 290.2L115.4 291.0L115.3 291.8L115.2 292.5L114.9 293.3L114.5 293.9L113.8 294.3L113.4 294.9L112.7 295.3L112.1 295.6L111.4 295.8L110.7 295.8L110.1 296.2L109.5 296.3L108.8 296.3L108.1 296.7L107.4 296.5L106.6 296.6L105.9 296.4L105.1 296.2L104.4 295.9L103.9 295.2L103.4 294.7L103.0 294.0L102.8 293.2L102.8 292.4L102.7 291.7L102.6 291.0L102.7 290.2L102.4 289.5L102.5 288.8L102.6 288.0L102.9 287.3L103.1 286.6L103.5 286.0L104.0 285.3L104.5 284.8L105.2 284.4L105.9 284.2L106.7 284.3L107.4 284.1L108.1 284.1L108.8 284.2L109.5 284.0L110.2 284.2L110.9 284.3L111.6 284.4L112.2 284.8L112.9 285.0L113.4 285.6L114.0 286.0L114.4 286.6L114.7 287.3L115.0 288.0L115.3 288.7L115.4 289.5Z M112.7 290.4L112.7 290.9L112.8 291.4L112.6 291.9L112.3 292.3L112.0 292.7L111.8 293.2L111.4 293.5L111.0 293.8L110.5 293.9L110.1 294.1L109.6 294.2L109.2 294.3L108.8 294.5L108.3 294.6L107.8 294.6L107.4 294.6L106.9 294.6L106.4 294.4L105.9 294.3L105.4 294.0L105.1 293.6L104.8 293.2L104.5 292.8L104.3 292.3L104.3 291.8L104.1 291.4L104.2 290.9L104.1 290.4L104.2 289.9L104.2 289.4L104.2 288.9L104.4 288.5L104.5 288.0L104.9 287.6L105.1 287.1L105.5 286.8L106.0 286.6L106.4 286.4L106.9 286.3L107.4 286.2L107.8 286.1L108.3 286.2L108.8 286.3L109.2 286.4L109.7 286.4L110.1 286.5L110.6 286.7L111.0 287.0L111.3 287.3L111.7 287.6L112.1 288.0L112.3 288.4L112.5 288.9L112.6 289.4L112.7 289.9Z M110.1 290.5L110.0 290.8L109.9 291.0L109.9 291.2L109.8 291.5L109.7 291.7L109.5 291.9L109.3 292.0L109.1 292.2L108.9 292.3L108.7 292.4L108.5 292.4L108.3 292.5L108.0 292.6L107.8 292.6L107.6 292.7L107.3 292.6L107.1 292.6L106.8 292.6L106.6 292.5L106.4 292.3L106.2 292.2L106.0 291.9L105.9 291.7L105.8 291.5L105.8 291.2L105.7 291.0L105.7 290.7L105.7 290.5L105.7 290.3L105.7 290.0L105.8 289.8L105.8 289.5L105.9 289.3L106.0 289.1L106.2 288.9L106.4 288.7L106.6 288.6L106.9 288.5L107.1 288.5L107.3 288.4L107.6 288.4L107.8 288.4L108.0 288.4L108.3 288.4L108.5 288.5L108.7 288.5L108.9 288.7L109.2 288.7L109.3 288.9L109.5 289.1L109.6 289.3L109.8 289.5L109.8 289.8L110.0 290.0L110.0 290.2Z" fill="none" stroke="#2fa055" stroke-width="0.95" stroke-opacity="0.9"/>
<path d="M124.4 259.4L124.1 260.9L123.8 262.3L123.4 263.5L123.0 264.5L122.8 265.8L122.4 266.9L122.1 268.1L121.8 269.3L121.4 270.4L121.0 271.6L120.5 272.5L120.1 273.3L119.6 273.7L119.2 273.6L119.0 272.7L118.6 272.3L118.5 271.2L118.3 270.2L118.2 269.1L118.0 268.2L118.0 266.9L117.9 266.0L117.9 264.7L117.8 263.7L117.9 262.5L117.9 261.3L118.0 260.0L118.1 258.7L118.2 257.3L118.4 255.9L118.6 254.5L118.8 253.1L119.0 251.2L119.3 249.7L119.7 248.0L120.1 246.7L120.5 245.4L121.0 244.5L121.5 244.6L121.9 244.6L122.3 245.0L122.6 246.0L122.8 246.9L122.9 248.1L123.0 249.2L123.2 250.0L123.4 250.4L123.6 251.1L123.9 251.3L124.2 251.9L124.4 252.7L124.7 253.5L124.7 254.9L124.8 256.2L124.7 257.8Z M122.6 259.2L122.5 259.9L122.4 260.6L122.2 261.3L122.1 261.9L121.9 262.5L121.7 263.0L121.6 263.5L121.4 264.2L121.2 264.7L121.0 265.2L120.8 265.6L120.6 265.8L120.4 265.8L120.2 265.7L120.0 265.7L119.8 265.5L119.7 265.2L119.6 264.7L119.6 264.2L119.4 263.8L119.4 263.2L119.4 262.6L119.4 262.0L119.3 261.5L119.3 260.8L119.3 260.2L119.4 259.5L119.5 258.8L119.5 258.1L119.7 257.4L119.8 256.7L119.9 256.0L120.0 255.3L120.2 254.6L120.4 253.9L120.6 253.3L120.8 252.8L121.0 252.6L121.2 252.3L121.4 252.2L121.6 252.3L121.8 252.5L121.9 252.7L122.0 253.2L122.2 253.5L122.2 253.9L122.4 254.1L122.4 254.6L122.6 254.8L122.7 255.2L122.7 255.8L122.8 256.3L122.8 256.9L122.8 257.7L122.7 258.4Z" fill="none" stroke="#222" stroke-width="0.7" stroke-opacity="0.6"/>
<rect x="67.3" y="245.4" width="25.5" height="23.8" fill="none" stroke="#333" stroke-width="0.9"/>
<rect x="93.3" y="244.8" width="24" height="19.8" fill="none" stroke="#333" stroke-width="0.9"/>
<rect x="67.3" y="276.1" width="29" height="22" fill="none" stroke="#333" stroke-width="0.9"/>
<rect x="102.5" y="275.3" width="26.3" height="22.5" fill="none" stroke="#333" stroke-width="0.9"/>
<path d="M39.3 191.0H158.2V307.7" fill="none" stroke="#a0a0a0" stroke-width="1.2"/>
<line x1="39.3" y1="190.4" x2="39.3" y2="308.3" stroke="#222" stroke-width="1.2" />
<line x1="38.7" y1="307.7" x2="158.2" y2="307.7" stroke="#222" stroke-width="1.2" />
<path d="M35.3 201.8H39.3M35.3 228.1H39.3M35.3 255.4H39.3M35.3 283.5H39.3M35.3 291.8H39.3M37.0 219.9H39.3M37.0 215.1H39.3M37.0 211.7H39.3M37.0 209.0H39.3M37.0 206.9H39.3M37.0 205.0H39.3M37.0 203.4H39.3M37.0 202.0H39.3M37.0 247.2H39.3M37.0 242.4H39.3M37.0 239.0H39.3M37.0 236.3H39.3M37.0 234.2H39.3M37.0 232.3H39.3M37.0 230.7H39.3M37.0 229.3H39.3M37.0 275.3H39.3M37.0 270.5H39.3M37.0 267.1H39.3M37.0 264.4H39.3M37.0 262.3H39.3M37.0 260.4H39.3M37.0 258.8H39.3M37.0 257.4H39.3M37.0 296.2H39.3M37.0 301.0H39.3M37.0 305.3H39.3M49.3 307.7V311.7M65.3 307.7V311.7M93.8 307.7V311.7M120.6 307.7V311.7M146.8 307.7V311.7M73.6 307.7V310.0M78.4 307.7V310.0M81.9 307.7V310.0M84.5 307.7V310.0M86.7 307.7V310.0M88.5 307.7V310.0M90.1 307.7V310.0M91.5 307.7V310.0M102.1 307.7V310.0M106.9 307.7V310.0M110.4 307.7V310.0M113.0 307.7V310.0M115.2 307.7V310.0M117.0 307.7V310.0M118.6 307.7V310.0M120.0 307.7V310.0M128.9 307.7V310.0M133.7 307.7V310.0M137.2 307.7V310.0M139.8 307.7V310.0M142.0 307.7V310.0M143.8 307.7V310.0M145.4 307.7V310.0M146.8 307.7V310.0M42.3 307.7V310.0M45.3 307.7V310.0M53.5 307.7V310.0M57.5 307.7V310.0M61.3 307.7V310.0M152.5 307.7V310.0M156.0 307.7V310.0" stroke="#333" stroke-width="0.8" fill="none"/>
<text transform="translate(33.9,206.20000000000002) rotate(-90)" font-size="6" fill="#222">10<tspan font-size="4.6" dy="-3.0">5</tspan></text>
<text transform="translate(33.9,232.5) rotate(-90)" font-size="6" fill="#222">10<tspan font-size="4.6" dy="-3.0">4</tspan></text>
<text transform="translate(33.9,259.8) rotate(-90)" font-size="6" fill="#222">10<tspan font-size="4.6" dy="-3.0">3</tspan></text>
<text transform="translate(33.9,287.9) rotate(-90)" font-size="6" fill="#222">10<tspan font-size="4.6" dy="-3.0">2</tspan></text>
<text transform="translate(33.6,293.8) rotate(-90)" font-size="6" fill="#222">0</text>
<text transform="translate(33.0,309) rotate(-90)" font-size="6" fill="#222">-100</text>
<text x="62.099999999999994" y="319.5" font-size="6" fill="#222">10<tspan font-size="4.4" dy="-2.8">2</tspan></text>
<text x="90.6" y="319.5" font-size="6" fill="#222">10<tspan font-size="4.4" dy="-2.8">3</tspan></text>
<text x="117.39999999999999" y="319.5" font-size="6" fill="#222">10<tspan font-size="4.4" dy="-2.8">4</tspan></text>
<text x="143.60000000000002" y="319.5" font-size="6" fill="#222">10<tspan font-size="4.4" dy="-2.8">5</tspan></text>
<text x="47.9" y="319.5" font-size="6" fill="#222">0</text>
<text x="36.5" y="319" font-size="4" fill="#555">-1 0</text>
<text x="47.8" y="243.4" font-size="12.6" text-anchor="start" fill="#2a2a7a" stroke="#2a2a7a" stroke-width="0.45" >CM</text>
<text x="116" y="243.4" font-size="12.9" text-anchor="start" fill="#b3263a" stroke="#b3263a" stroke-width="0.45" >Naïve</text>
<text x="39.8" y="305.1" font-size="12.6" text-anchor="start" fill="#000" stroke="#000" stroke-width="0.45" >TEMH1</text>
<text x="115.5" y="305.2" font-size="12.6" text-anchor="start" fill="#2e8c48" stroke="#2e8c48" stroke-width="0.45" >TEMRA</text>
<path d="M179.5 202.9H184.5M179.5 238.5H184.5M179.5 274.0H184.5M179.5 307.6H184.5M181.9 300.9H184.5M181.9 294.2H184.5M181.9 287.4H184.5M181.9 280.7H184.5M181.9 266.9H184.5M181.9 259.8H184.5M181.9 252.7H184.5M181.9 245.6H184.5M181.9 231.4H184.5M181.9 224.3H184.5M181.9 217.1H184.5M181.9 210.0H184.5M181.9 195.8H184.5M210.0 307.6V312.1M226.8 307.6V312.1M268.5 307.6V312.1M317.3 307.6V312.1M362.7 307.6V312.1M218.7 307.6V313.6M188.0 307.6V310.1M195.0 307.6V310.1M202.0 307.6V310.1M214.3 307.6V310.1M222.7 307.6V310.1M239.4 307.6V310.1M246.7 307.6V310.1M251.9 307.6V310.1M255.9 307.6V310.1M259.2 307.6V310.1M262.0 307.6V310.1M264.5 307.6V310.1M266.6 307.6V310.1M283.2 307.6V310.1M291.8 307.6V310.1M297.9 307.6V310.1M302.6 307.6V310.1M306.5 307.6V310.1M309.7 307.6V310.1M312.6 307.6V310.1M315.1 307.6V310.1M331.0 307.6V310.1M339.0 307.6V310.1M344.6 307.6V310.1M349.0 307.6V310.1M352.6 307.6V310.1M355.7 307.6V310.1M358.3 307.6V310.1M360.6 307.6V310.1M376.2 307.6V310.1" stroke="#555" stroke-width="0.7" fill="none"/>
<text transform="translate(179.4,202.9) rotate(-90)" font-size="5.4" fill="#333" text-anchor="middle">150</text>
<text transform="translate(179.4,238.5) rotate(-90)" font-size="5.4" fill="#333" text-anchor="middle">100</text>
<text transform="translate(179.4,274) rotate(-90)" font-size="5.4" fill="#333" text-anchor="middle">50</text>
<text transform="translate(179.4,307.6) rotate(-90)" font-size="5.4" fill="#333" text-anchor="middle">0</text>
<text x="223.60000000000002" y="319" font-size="5.2" fill="#555">10<tspan font-size="4.4" dy="-2.8">2</tspan></text>
<text x="265.3" y="319" font-size="5.2" fill="#555">10<tspan font-size="4.4" dy="-2.8">3</tspan></text>
<text x="314.1" y="319" font-size="5.2" fill="#555">10<tspan font-size="4.4" dy="-2.8">4</tspan></text>
<text x="359.5" y="319" font-size="5.2" fill="#555">10<tspan font-size="4.4" dy="-2.8">5</tspan></text>
<text x="205.5" y="319" font-size="5.2" fill="#555">-10<tspan font-size="4.4" dy="-2.8">2</tspan></text>
<text x="217.2" y="319" font-size="5.2" fill="#555">0</text>
<text x="180.5" y="319.5" font-size="4" fill="#555">-100</text>
</svg></body></html>
